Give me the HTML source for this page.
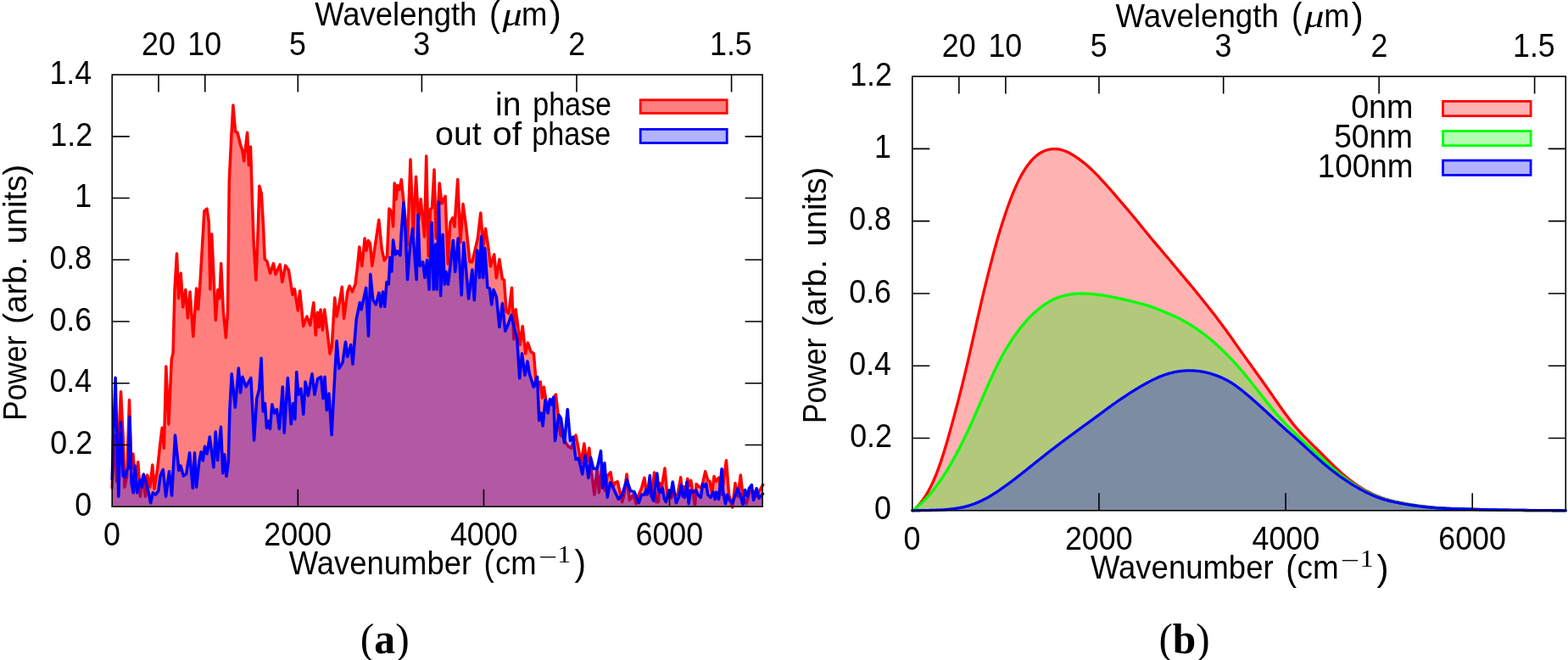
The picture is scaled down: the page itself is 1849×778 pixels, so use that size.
<!DOCTYPE html>
<html><head><meta charset="utf-8"><title>Power spectra</title>
<style>html,body{margin:0;padding:0;background:#fff;width:1849px;height:778px;overflow:hidden}svg{display:block}</style>
</head><body>
<svg width="1849" height="778" viewBox="0 0 1849 778">
<rect width="1849" height="778" fill="#fff"/>
<g stroke-linejoin="round" stroke-linecap="round">
<path d="M132.2,597.2 L132.2,575 L132.6,565.5 L135.5,513 L137.7,567.7 L142.5,461.7 L145.3,517.4 L147,574.2 L149.7,561.1 L152.5,471.5 L154.7,552.4 L156.9,534.9 L159.5,565.5 L162.8,544.7 L165.4,585.2 L168.3,561.1 L171.5,585.2 L173.7,560 L177,574.2 L179.8,548 L182,576.4 L185.7,552.4 L189,521.8 L191.2,504.3 L193.4,528.3 L195.8,432 L198.9,500 L202.3,423.7 L204.1,416 L206,341.4 L208.5,299 L210.6,351.7 L213.2,322.1 L215.7,362 L218.8,341.4 L221.4,374.8 L224,344 L227.8,396.7 L231.7,340.1 L233.7,364.6 L236.3,328.6 L240.9,248.8 L244,246.2 L246.3,262 L247.9,341 L249.7,276 L254.3,377.4 L256.9,341.4 L258.9,351.7 L260.7,310.6 L263.3,367.1 L266.4,398 L268.5,367.1 L270.3,212.8 L272.8,161.4 L274.9,124.1 L277.5,155 L280,156.3 L283.9,171.7 L285.7,176.8 L287.7,189.7 L291.6,156.3 L293.4,194.8 L295.5,173 L297.5,238.5 L299.3,290 L301.9,330 L304.5,264 L305.8,219.3 L308.3,228.3 L310.4,264.2 L312.2,305.4 L314.8,308 L318.6,322.1 L322.5,310.6 L325,323.4 L330.2,311.9 L332.8,332.4 L336.6,313.1 L340.4,318.6 L345,347.5 L347.3,340.6 L351.3,366 L353.6,342.9 L357.7,384.5 L361.9,373 L365.8,383.4 L369.8,356.8 L372.3,394.9 L374.4,368.3 L376.2,385.7 L378.1,364.9 L380.4,389.2 L382.7,364.9 L385.9,390.3 L389,416.9 L391.3,408.8 L394.7,351 L397.1,373 L400.5,355.6 L403.3,338.3 L405.6,375.3 L409.8,344 L412.1,337.1 L415.5,344 L419,334.8 L421.3,316.3 L423.8,291.1 L426.8,313.6 L430.1,281.1 L432.1,295.3 L434.3,283.6 L436.5,286.9 L438.8,313.6 L446.8,259.3 L450.2,293.6 L453.2,307 L456.5,302 L458.9,246 L461.9,250.2 L463.6,266.9 L465.2,215.9 L467.2,235.1 L468.6,218.4 L471.1,223.4 L473.3,211.7 L477.3,251 L480.4,289 L484,188 L487.4,277 L490.5,208.2 L493.5,260.2 L496.2,234.8 L500.6,279 L502.7,183.9 L505.2,302 L507.5,246.7 L509.5,245 L512,200.1 L514.2,281 L518.2,216 L520.9,240 L525.1,231.3 L528.2,311.1 L530.9,262.5 L533.7,256.8 L536,267.2 L539.7,211.6 L542.9,285.7 L546,240.6 L549.9,269.5 L554,308.8 L556.8,308.8 L563.3,281.1 L566.8,251 L569.8,290.3 L572.5,269.5 L576,292.6 L578.5,313.9 L582.7,300 L585.4,327.8 L588.9,305.8 L592.4,328.9 L594.5,330 L597,367.1 L599.8,369.4 L603.5,339.3 L605.8,400 L608.1,364.8 L610.9,385.6 L613.2,406.4 L616.2,384.5 L619.7,416.8 L622.4,404.1 L625.9,414.5 L629.4,416.8 L632.5,455 L637.2,450 L639.5,469 L641.4,456.2 L644.5,475.9 L647,474 L651,472 L655.4,465 L658.9,495.6 L661.1,513 L664,515 L667,521.8 L670,526 L673.6,528.3 L679,513 L681.6,526.2 L685.1,545.8 L688.9,522.9 L691.7,545.8 L694.8,528.3 L697.6,556.7 L700.9,583 L704.2,550.2 L706.3,580.8 L709.6,552 L713.6,578.6 L716.2,561 L720.1,556.7 L722.7,574.2 L725.4,569 L728.2,567.7 L733.7,591.7 L735.9,583 L739.1,558.9 L742.4,589.5 L746.8,583 L750.1,593.9 L753.3,583 L756.6,575.3 L759.9,563.3 L762,578 L763.2,583.2 L766,571 L768.2,585 L771.6,556.9 L773.7,591.7 L776.3,591.7 L777.9,569.5 L780.5,572.7 L784,552.1 L785.8,572.7 L787.4,587.4 L789.5,579 L791.6,587.4 L793.7,579 L796.4,583.2 L799,583.2 L802.7,562.7 L804.8,583.2 L806.9,573.7 L808.5,584.3 L810.8,564.3 L812.7,572.7 L814.8,566.4 L817.4,582.2 L819.5,595.9 L821.1,570.6 L824.3,573.7 L827.4,574.8 L831.7,555.8 L834.8,566.4 L836.9,567.4 L839.6,581.1 L842,561.6 L844.3,567.4 L847.5,563.2 L851.1,583.2 L856.4,542.7 L859.6,583.2 L863.8,598 L867,569.5 L870.1,585.3 L873.3,560 L875.9,583.2 L880.1,593.8 L884.3,579 L888.6,579 L891.7,585.3 L895.9,578 L899.6,571.6 L899.6,597.2 Z" fill="#ff0000" fill-opacity="0.5" stroke="none"/>
<path d="M132.2,575 L132.6,565.5 L135.5,513 L137.7,567.7 L142.5,461.7 L145.3,517.4 L147,574.2 L149.7,561.1 L152.5,471.5 L154.7,552.4 L156.9,534.9 L159.5,565.5 L162.8,544.7 L165.4,585.2 L168.3,561.1 L171.5,585.2 L173.7,560 L177,574.2 L179.8,548 L182,576.4 L185.7,552.4 L189,521.8 L191.2,504.3 L193.4,528.3 L195.8,432 L198.9,500 L202.3,423.7 L204.1,416 L206,341.4 L208.5,299 L210.6,351.7 L213.2,322.1 L215.7,362 L218.8,341.4 L221.4,374.8 L224,344 L227.8,396.7 L231.7,340.1 L233.7,364.6 L236.3,328.6 L240.9,248.8 L244,246.2 L246.3,262 L247.9,341 L249.7,276 L254.3,377.4 L256.9,341.4 L258.9,351.7 L260.7,310.6 L263.3,367.1 L266.4,398 L268.5,367.1 L270.3,212.8 L272.8,161.4 L274.9,124.1 L277.5,155 L280,156.3 L283.9,171.7 L285.7,176.8 L287.7,189.7 L291.6,156.3 L293.4,194.8 L295.5,173 L297.5,238.5 L299.3,290 L301.9,330 L304.5,264 L305.8,219.3 L308.3,228.3 L310.4,264.2 L312.2,305.4 L314.8,308 L318.6,322.1 L322.5,310.6 L325,323.4 L330.2,311.9 L332.8,332.4 L336.6,313.1 L340.4,318.6 L345,347.5 L347.3,340.6 L351.3,366 L353.6,342.9 L357.7,384.5 L361.9,373 L365.8,383.4 L369.8,356.8 L372.3,394.9 L374.4,368.3 L376.2,385.7 L378.1,364.9 L380.4,389.2 L382.7,364.9 L385.9,390.3 L389,416.9 L391.3,408.8 L394.7,351 L397.1,373 L400.5,355.6 L403.3,338.3 L405.6,375.3 L409.8,344 L412.1,337.1 L415.5,344 L419,334.8 L421.3,316.3 L423.8,291.1 L426.8,313.6 L430.1,281.1 L432.1,295.3 L434.3,283.6 L436.5,286.9 L438.8,313.6 L446.8,259.3 L450.2,293.6 L453.2,307 L456.5,302 L458.9,246 L461.9,250.2 L463.6,266.9 L465.2,215.9 L467.2,235.1 L468.6,218.4 L471.1,223.4 L473.3,211.7 L477.3,251 L480.4,289 L484,188 L487.4,277 L490.5,208.2 L493.5,260.2 L496.2,234.8 L500.6,279 L502.7,183.9 L505.2,302 L507.5,246.7 L509.5,245 L512,200.1 L514.2,281 L518.2,216 L520.9,240 L525.1,231.3 L528.2,311.1 L530.9,262.5 L533.7,256.8 L536,267.2 L539.7,211.6 L542.9,285.7 L546,240.6 L549.9,269.5 L554,308.8 L556.8,308.8 L563.3,281.1 L566.8,251 L569.8,290.3 L572.5,269.5 L576,292.6 L578.5,313.9 L582.7,300 L585.4,327.8 L588.9,305.8 L592.4,328.9 L594.5,330 L597,367.1 L599.8,369.4 L603.5,339.3 L605.8,400 L608.1,364.8 L610.9,385.6 L613.2,406.4 L616.2,384.5 L619.7,416.8 L622.4,404.1 L625.9,414.5 L629.4,416.8 L632.5,455 L637.2,450 L639.5,469 L641.4,456.2 L644.5,475.9 L647,474 L651,472 L655.4,465 L658.9,495.6 L661.1,513 L664,515 L667,521.8 L670,526 L673.6,528.3 L679,513 L681.6,526.2 L685.1,545.8 L688.9,522.9 L691.7,545.8 L694.8,528.3 L697.6,556.7 L700.9,583 L704.2,550.2 L706.3,580.8 L709.6,552 L713.6,578.6 L716.2,561 L720.1,556.7 L722.7,574.2 L725.4,569 L728.2,567.7 L733.7,591.7 L735.9,583 L739.1,558.9 L742.4,589.5 L746.8,583 L750.1,593.9 L753.3,583 L756.6,575.3 L759.9,563.3 L762,578 L763.2,583.2 L766,571 L768.2,585 L771.6,556.9 L773.7,591.7 L776.3,591.7 L777.9,569.5 L780.5,572.7 L784,552.1 L785.8,572.7 L787.4,587.4 L789.5,579 L791.6,587.4 L793.7,579 L796.4,583.2 L799,583.2 L802.7,562.7 L804.8,583.2 L806.9,573.7 L808.5,584.3 L810.8,564.3 L812.7,572.7 L814.8,566.4 L817.4,582.2 L819.5,595.9 L821.1,570.6 L824.3,573.7 L827.4,574.8 L831.7,555.8 L834.8,566.4 L836.9,567.4 L839.6,581.1 L842,561.6 L844.3,567.4 L847.5,563.2 L851.1,583.2 L856.4,542.7 L859.6,583.2 L863.8,598 L867,569.5 L870.1,585.3 L873.3,560 L875.9,583.2 L880.1,593.8 L884.3,579 L888.6,579 L891.7,585.3 L895.9,578 L899.6,571.6" fill="none" stroke="#ff0000" stroke-width="3.5"/>
<path d="M132.2,597.2 L132.2,565 L133.5,520 L136.1,445.3 L139.8,585.2 L142.5,497.7 L145.3,561.1 L147.5,562.2 L149.7,554.6 L151.2,552 L153,491.2 L155.1,569.9 L157.3,580.8 L159.1,549.1 L161.7,580.8 L165,565.5 L167.2,574.2 L169.3,558.9 L172.6,569.9 L174.8,578.6 L177.7,592.8 L180.3,580.8 L183.6,583 L186.8,578.6 L189,561.1 L192.3,553.5 L195.6,585.2 L199.5,555.7 L202.6,584.1 L206.5,513 L210.9,554.6 L213.1,549.1 L216.3,561.1 L219.6,558.9 L223.6,533.8 L227.3,575.3 L229.5,533.8 L231.6,574.2 L234.9,543.6 L237.1,532.7 L239.3,543 L241.5,526.2 L244.1,534.9 L247.3,515 L251.9,550.7 L254.2,509.1 L256.6,542.6 L260.5,503.3 L262.8,557.7 L264.7,535.7 L267,561.6 L269.3,545 L270.9,482.5 L273.2,440.8 L277.4,480.2 L281.3,433.9 L283.6,462.8 L285.9,444.3 L290.1,455.9 L295.9,445.5 L299.6,519 L302.8,469.7 L305.6,459.3 L308.1,422.3 L310.2,484.8 L312.5,475.5 L314.4,504.5 L316.7,496.4 L318.5,505.6 L320.8,476.7 L323.6,487.1 L326.4,482.5 L329.4,505.6 L333.3,455.9 L335.2,510.2 L339.3,445.5 L343.3,499.8 L345.6,475.5 L347.9,494 L349.7,438.5 L351.8,465.1 L354.8,458.2 L357.8,488.3 L360.1,450.1 L363.4,466.3 L368,440.8 L371,465.1 L374.5,446.6 L378.6,444.3 L381,469.7 L383,444.3 L385.3,483.6 L387.9,464 L391.1,512.6 L394.1,454.7 L397.1,401.9 L399.8,434.3 L404,427.3 L407.5,403 L409.8,420.4 L413.7,406.5 L416,429.2 L420.2,376.4 L424.3,356.8 L426,364.9 L431.7,339.4 L434.5,396.1 L436.8,323.2 L439.8,353.3 L443.3,359.1 L446.8,345.2 L449.1,361.4 L451.4,344 L453.7,361.4 L456,332.5 L458.3,334.8 L459.9,303.5 L461.8,320 L463.6,283 L466.2,300 L468.6,296 L471.9,301 L473.1,276.4 L476,239 L478.2,274.1 L480.5,329.6 L483.5,290.3 L486.5,269.5 L488.8,299.6 L491.2,329.6 L492.8,253.3 L495.1,313.5 L498.6,308.8 L500.9,327.3 L503.6,306.5 L506,341.2 L509.2,262.5 L511.3,341.2 L513.6,288 L515.2,341.2 L517.5,238.3 L519.7,348.6 L522.1,276.4 L524.2,335.3 L525.9,320.2 L528.4,335.3 L530.9,313.6 L534.4,283.4 L536.7,320.4 L540.2,281.1 L544.2,347.8 L546.8,286 L552.6,352 L556.8,318.1 L559.3,353.7 L562.8,294.9 L565.6,327.3 L567.5,278.7 L569.8,327.3 L571.8,292.6 L574.9,338.9 L577.5,340 L579.7,359 L582,341.6 L585.4,349.7 L588.9,385.6 L592.4,357.8 L595.8,390.2 L599,383 L602.8,371.7 L606.2,385.6 L609.7,399.5 L612.7,445.8 L615.5,416.8 L619,442.3 L622,426.1 L624.4,440.9 L629.3,456.2 L633.6,444.2 L635.7,495.6 L637.9,486.8 L640.1,502.1 L643,471.5 L646.2,486.8 L648.4,470.4 L650.6,477 L652.8,468.2 L654.5,519.6 L658.9,489 L661.5,493 L665.5,521.8 L669.2,482.4 L672.5,519.6 L675.7,515 L679,541.5 L682.3,540 L686.7,558.9 L690,537.1 L693.9,563.3 L696.5,539.3 L699.8,552.4 L704.2,552.4 L708.5,531.6 L710.7,575.3 L712.9,545.8 L716.2,586.2 L719.5,568.8 L722.7,574.2 L729.3,588.4 L733.7,583 L739.1,565.5 L743.5,578.6 L747.9,579.7 L753.3,592.8 L756.6,583 L760,583.2 L762.1,576.9 L763.7,582.2 L766.3,560.6 L768.4,585.3 L770.5,590.1 L774.8,557.9 L776.9,579 L779,580.1 L781.1,574.8 L783.2,587.4 L785.3,591.7 L789,578 L790.6,585.3 L793.2,567.9 L795.3,581.1 L797.4,592.7 L800.6,585.3 L803.4,571.6 L805.3,585.3 L807.4,586.4 L810,567.9 L812.2,593.8 L814.3,578 L817.4,580.1 L820.6,578 L823.2,583.2 L826.4,586.4 L828.5,570.6 L831.1,573.7 L832.7,570 L834.8,583.2 L838,586.4 L841.1,580.1 L843.2,588.5 L844.8,580.1 L847.5,588.5 L851.1,552.7 L852.7,579 L855.4,593.8 L857.5,583.2 L860.1,589.5 L863.8,592.7 L866.4,585.3 L870.1,575.8 L873.3,585.3 L876,595.3 L878.5,577.4 L881.2,585.3 L883.3,575.8 L886.4,571.6 L888.6,589.5 L892.2,575.8 L894.9,587.4 L899.6,582.2 L899.6,597.2 Z" fill="#0000ff" fill-opacity="0.3" stroke="none"/>
<path d="M132.2,565 L133.5,520 L136.1,445.3 L139.8,585.2 L142.5,497.7 L145.3,561.1 L147.5,562.2 L149.7,554.6 L151.2,552 L153,491.2 L155.1,569.9 L157.3,580.8 L159.1,549.1 L161.7,580.8 L165,565.5 L167.2,574.2 L169.3,558.9 L172.6,569.9 L174.8,578.6 L177.7,592.8 L180.3,580.8 L183.6,583 L186.8,578.6 L189,561.1 L192.3,553.5 L195.6,585.2 L199.5,555.7 L202.6,584.1 L206.5,513 L210.9,554.6 L213.1,549.1 L216.3,561.1 L219.6,558.9 L223.6,533.8 L227.3,575.3 L229.5,533.8 L231.6,574.2 L234.9,543.6 L237.1,532.7 L239.3,543 L241.5,526.2 L244.1,534.9 L247.3,515 L251.9,550.7 L254.2,509.1 L256.6,542.6 L260.5,503.3 L262.8,557.7 L264.7,535.7 L267,561.6 L269.3,545 L270.9,482.5 L273.2,440.8 L277.4,480.2 L281.3,433.9 L283.6,462.8 L285.9,444.3 L290.1,455.9 L295.9,445.5 L299.6,519 L302.8,469.7 L305.6,459.3 L308.1,422.3 L310.2,484.8 L312.5,475.5 L314.4,504.5 L316.7,496.4 L318.5,505.6 L320.8,476.7 L323.6,487.1 L326.4,482.5 L329.4,505.6 L333.3,455.9 L335.2,510.2 L339.3,445.5 L343.3,499.8 L345.6,475.5 L347.9,494 L349.7,438.5 L351.8,465.1 L354.8,458.2 L357.8,488.3 L360.1,450.1 L363.4,466.3 L368,440.8 L371,465.1 L374.5,446.6 L378.6,444.3 L381,469.7 L383,444.3 L385.3,483.6 L387.9,464 L391.1,512.6 L394.1,454.7 L397.1,401.9 L399.8,434.3 L404,427.3 L407.5,403 L409.8,420.4 L413.7,406.5 L416,429.2 L420.2,376.4 L424.3,356.8 L426,364.9 L431.7,339.4 L434.5,396.1 L436.8,323.2 L439.8,353.3 L443.3,359.1 L446.8,345.2 L449.1,361.4 L451.4,344 L453.7,361.4 L456,332.5 L458.3,334.8 L459.9,303.5 L461.8,320 L463.6,283 L466.2,300 L468.6,296 L471.9,301 L473.1,276.4 L476,239 L478.2,274.1 L480.5,329.6 L483.5,290.3 L486.5,269.5 L488.8,299.6 L491.2,329.6 L492.8,253.3 L495.1,313.5 L498.6,308.8 L500.9,327.3 L503.6,306.5 L506,341.2 L509.2,262.5 L511.3,341.2 L513.6,288 L515.2,341.2 L517.5,238.3 L519.7,348.6 L522.1,276.4 L524.2,335.3 L525.9,320.2 L528.4,335.3 L530.9,313.6 L534.4,283.4 L536.7,320.4 L540.2,281.1 L544.2,347.8 L546.8,286 L552.6,352 L556.8,318.1 L559.3,353.7 L562.8,294.9 L565.6,327.3 L567.5,278.7 L569.8,327.3 L571.8,292.6 L574.9,338.9 L577.5,340 L579.7,359 L582,341.6 L585.4,349.7 L588.9,385.6 L592.4,357.8 L595.8,390.2 L599,383 L602.8,371.7 L606.2,385.6 L609.7,399.5 L612.7,445.8 L615.5,416.8 L619,442.3 L622,426.1 L624.4,440.9 L629.3,456.2 L633.6,444.2 L635.7,495.6 L637.9,486.8 L640.1,502.1 L643,471.5 L646.2,486.8 L648.4,470.4 L650.6,477 L652.8,468.2 L654.5,519.6 L658.9,489 L661.5,493 L665.5,521.8 L669.2,482.4 L672.5,519.6 L675.7,515 L679,541.5 L682.3,540 L686.7,558.9 L690,537.1 L693.9,563.3 L696.5,539.3 L699.8,552.4 L704.2,552.4 L708.5,531.6 L710.7,575.3 L712.9,545.8 L716.2,586.2 L719.5,568.8 L722.7,574.2 L729.3,588.4 L733.7,583 L739.1,565.5 L743.5,578.6 L747.9,579.7 L753.3,592.8 L756.6,583 L760,583.2 L762.1,576.9 L763.7,582.2 L766.3,560.6 L768.4,585.3 L770.5,590.1 L774.8,557.9 L776.9,579 L779,580.1 L781.1,574.8 L783.2,587.4 L785.3,591.7 L789,578 L790.6,585.3 L793.2,567.9 L795.3,581.1 L797.4,592.7 L800.6,585.3 L803.4,571.6 L805.3,585.3 L807.4,586.4 L810,567.9 L812.2,593.8 L814.3,578 L817.4,580.1 L820.6,578 L823.2,583.2 L826.4,586.4 L828.5,570.6 L831.1,573.7 L832.7,570 L834.8,583.2 L838,586.4 L841.1,580.1 L843.2,588.5 L844.8,580.1 L847.5,588.5 L851.1,552.7 L852.7,579 L855.4,593.8 L857.5,583.2 L860.1,589.5 L863.8,592.7 L866.4,585.3 L870.1,575.8 L873.3,585.3 L876,595.3 L878.5,577.4 L881.2,585.3 L883.3,575.8 L886.4,571.6 L888.6,589.5 L892.2,575.8 L894.9,587.4 L899.6,582.2" fill="none" stroke="#0000ff" stroke-width="3.5"/>
</g>
<path d="M132.2,524.47 h20.5 M899.1,524.47 h-20.5 M132.2,451.74 h20.5 M899.1,451.74 h-20.5 M132.2,379.01 h20.5 M899.1,379.01 h-20.5 M132.2,306.29 h20.5 M899.1,306.29 h-20.5 M132.2,233.56 h20.5 M899.1,233.56 h-20.5 M132.2,160.83 h20.5 M899.1,160.83 h-20.5 M351.31,597.2 v-20.5 M570.43,597.2 v-20.5 M789.54,597.2 v-20.5 M186.98,88.1 v20.5 M241.76,88.1 v20.5 M351.31,88.1 v20.5 M497.39,88.1 v20.5 M679.99,88.1 v20.5 M862.58,88.1 v20.5" stroke="#000" stroke-width="1.6" fill="none"/>
<rect x="132.2" y="88.1" width="766.9" height="509.1" fill="none" stroke="#000" stroke-width="1.6"/>
<g stroke-linejoin="round" stroke-linecap="round">
<path d="M1075.8,601.8 L1075.8,601.8 L1077.3,601.69 L1078.8,600.15 L1080.3,598.58 L1081.8,596.96 L1083.3,595.28 L1084.8,593.52 L1086.3,591.67 L1087.8,589.7 L1089.3,587.62 L1090.8,585.4 L1092.3,583.04 L1093.8,580.53 L1095.3,577.86 L1096.8,575.03 L1098.3,572.03 L1099.8,568.86 L1101.3,565.52 L1102.8,562 L1104.3,558.29 L1105.8,554.4 L1107.3,550.33 L1108.8,546.08 L1110.3,541.64 L1111.8,537.02 L1113.3,532.24 L1114.8,527.31 L1116.3,522.24 L1117.8,517.05 L1119.3,511.76 L1120.8,506.38 L1122.3,500.92 L1123.8,495.4 L1125.3,489.83 L1126.8,484.21 L1128.3,478.53 L1129.8,472.8 L1131.3,467 L1132.8,461.12 L1134.3,455.15 L1135.8,449.08 L1137.3,442.92 L1138.8,436.67 L1140.3,430.32 L1141.8,423.88 L1143.3,417.36 L1144.8,410.78 L1146.3,404.14 L1147.8,397.46 L1149.3,390.77 L1150.8,384.08 L1152.3,377.41 L1153.8,370.8 L1155.3,364.26 L1156.8,357.81 L1158.3,351.44 L1159.8,345.16 L1161.3,338.96 L1162.8,332.84 L1164.3,326.78 L1165.8,320.8 L1167.3,314.89 L1168.8,309.06 L1170.3,303.33 L1171.8,297.7 L1173.3,292.19 L1174.8,286.8 L1176.3,281.55 L1177.8,276.43 L1179.3,271.44 L1180.8,266.59 L1182.3,261.86 L1183.8,257.24 L1185.3,252.74 L1186.8,248.34 L1188.3,244.06 L1189.8,239.9 L1191.3,235.87 L1192.8,231.97 L1194.3,228.22 L1195.8,224.61 L1197.3,221.14 L1198.8,217.81 L1200.3,214.62 L1201.8,211.57 L1203.3,208.67 L1204.8,205.91 L1206.3,203.28 L1207.8,200.79 L1209.3,198.44 L1210.8,196.22 L1212.3,194.14 L1213.8,192.19 L1215.3,190.37 L1216.8,188.67 L1218.3,187.1 L1219.8,185.64 L1221.3,184.3 L1222.8,183.07 L1224.3,181.94 L1225.8,180.92 L1227.3,180 L1228.8,179.17 L1230.3,178.44 L1231.8,177.79 L1233.3,177.23 L1234.8,176.75 L1236.3,176.36 L1237.8,176.05 L1239.3,175.81 L1240.8,175.65 L1242.3,175.56 L1243.8,175.55 L1245.3,175.61 L1246.8,175.74 L1248.3,175.94 L1249.8,176.22 L1251.3,176.56 L1252.8,176.98 L1254.3,177.46 L1255.8,178.01 L1257.3,178.63 L1258.8,179.3 L1260.3,180.03 L1261.8,180.81 L1263.3,181.64 L1264.8,182.51 L1266.3,183.43 L1267.8,184.39 L1269.3,185.38 L1270.8,186.41 L1272.3,187.47 L1273.8,188.56 L1275.3,189.68 L1276.8,190.84 L1278.3,192.03 L1279.8,193.26 L1281.3,194.52 L1282.8,195.83 L1284.3,197.17 L1285.8,198.54 L1287.3,199.95 L1288.8,201.4 L1290.3,202.87 L1291.8,204.38 L1293.3,205.92 L1294.8,207.48 L1296.3,209.06 L1297.8,210.66 L1299.3,212.28 L1300.8,213.92 L1302.3,215.56 L1303.8,217.22 L1305.3,218.89 L1306.8,220.57 L1308.3,222.26 L1309.8,223.96 L1311.3,225.67 L1312.8,227.39 L1314.3,229.12 L1315.8,230.85 L1317.3,232.59 L1318.8,234.33 L1320.3,236.08 L1321.8,237.83 L1323.3,239.58 L1324.8,241.34 L1326.3,243.1 L1327.8,244.87 L1329.3,246.64 L1330.8,248.42 L1332.3,250.2 L1333.8,251.99 L1335.3,253.79 L1336.8,255.6 L1338.3,257.41 L1339.8,259.24 L1341.3,261.07 L1342.8,262.91 L1344.3,264.75 L1345.8,266.6 L1347.3,268.45 L1348.8,270.29 L1350.3,272.14 L1351.8,273.98 L1353.3,275.82 L1354.8,277.64 L1356.3,279.46 L1357.8,281.27 L1359.3,283.07 L1360.8,284.86 L1362.3,286.63 L1363.8,288.41 L1365.3,290.17 L1366.8,291.93 L1368.3,293.69 L1369.8,295.44 L1371.3,297.19 L1372.8,298.95 L1374.3,300.71 L1375.8,302.47 L1377.3,304.25 L1378.8,306.03 L1380.3,307.81 L1381.8,309.61 L1383.3,311.4 L1384.8,313.2 L1386.3,315 L1387.8,316.8 L1389.3,318.6 L1390.8,320.39 L1392.3,322.18 L1393.8,323.97 L1395.3,325.75 L1396.8,327.54 L1398.3,329.32 L1399.8,331.1 L1401.3,332.89 L1402.8,334.68 L1404.3,336.48 L1405.8,338.29 L1407.3,340.1 L1408.8,341.93 L1410.3,343.76 L1411.8,345.6 L1413.3,347.45 L1414.8,349.31 L1416.3,351.17 L1417.8,353.04 L1419.3,354.92 L1420.8,356.8 L1422.3,358.68 L1423.8,360.57 L1425.3,362.46 L1426.8,364.36 L1428.3,366.26 L1429.8,368.17 L1431.3,370.09 L1432.8,372.02 L1434.3,373.97 L1435.8,375.92 L1437.3,377.89 L1438.8,379.88 L1440.3,381.89 L1441.8,383.92 L1443.3,385.96 L1444.8,388.01 L1446.3,390.08 L1447.8,392.16 L1449.3,394.25 L1450.8,396.36 L1452.3,398.47 L1453.8,400.58 L1455.3,402.7 L1456.8,404.83 L1458.3,406.96 L1459.8,409.08 L1461.3,411.21 L1462.8,413.33 L1464.3,415.45 L1465.8,417.56 L1467.3,419.66 L1468.8,421.76 L1470.3,423.84 L1471.8,425.92 L1473.3,428 L1474.8,430.08 L1476.3,432.15 L1477.8,434.22 L1479.3,436.3 L1480.8,438.38 L1482.3,440.45 L1483.8,442.54 L1485.3,444.63 L1486.8,446.72 L1488.3,448.82 L1489.8,450.93 L1491.3,453.05 L1492.8,455.18 L1494.3,457.32 L1495.8,459.46 L1497.3,461.61 L1498.8,463.76 L1500.3,465.92 L1501.8,468.08 L1503.3,470.24 L1504.8,472.4 L1506.3,474.56 L1507.8,476.71 L1509.3,478.86 L1510.8,480.99 L1512.3,483.11 L1513.8,485.2 L1515.3,487.28 L1516.8,489.33 L1518.3,491.35 L1519.8,493.35 L1521.3,495.31 L1522.8,497.23 L1524.3,499.12 L1525.8,500.97 L1527.3,502.78 L1528.8,504.55 L1530.3,506.28 L1531.8,507.96 L1533.3,509.61 L1534.8,511.21 L1536.3,512.79 L1537.8,514.34 L1539.3,515.87 L1540.8,517.38 L1542.3,518.87 L1543.8,520.36 L1545.3,521.85 L1546.8,523.33 L1548.3,524.81 L1549.8,526.3 L1551.3,527.78 L1552.8,529.26 L1554.3,530.75 L1555.8,532.24 L1557.3,533.73 L1558.8,535.22 L1560.3,536.72 L1561.8,538.22 L1563.3,539.72 L1564.8,541.22 L1566.3,542.71 L1567.8,544.2 L1569.3,545.68 L1570.8,547.16 L1572.3,548.62 L1573.8,550.07 L1575.3,551.5 L1576.8,552.92 L1578.3,554.32 L1579.8,555.7 L1581.3,557.06 L1582.8,558.4 L1584.3,559.71 L1585.8,561 L1587.3,562.26 L1588.8,563.49 L1590.3,564.7 L1591.8,565.87 L1593.3,567.02 L1594.8,568.13 L1596.3,569.22 L1597.8,570.28 L1599.3,571.32 L1600.8,572.33 L1602.3,573.31 L1603.8,574.26 L1605.3,575.2 L1606.8,576.1 L1608.3,576.98 L1609.8,577.84 L1611.3,578.67 L1612.8,579.48 L1614.3,580.26 L1615.8,581.02 L1617.3,581.75 L1618.8,582.46 L1620.3,583.15 L1621.8,583.81 L1623.3,584.45 L1624.8,585.07 L1626.3,585.66 L1627.8,586.22 L1629.3,586.77 L1630.8,587.29 L1632.3,587.78 L1633.8,588.25 L1635.3,588.7 L1636.8,589.13 L1638.3,589.53 L1639.8,589.92 L1641.3,590.3 L1642.8,590.65 L1644.3,591 L1645.8,591.33 L1647.3,591.66 L1648.8,591.98 L1650.3,592.3 L1651.8,592.61 L1653.3,592.92 L1654.8,593.22 L1656.3,593.52 L1657.8,593.81 L1659.3,594.09 L1660.8,594.37 L1662.3,594.63 L1663.8,594.89 L1665.3,595.14 L1666.8,595.39 L1668.3,595.62 L1669.8,595.85 L1671.3,596.07 L1672.8,596.28 L1674.3,596.49 L1675.8,596.68 L1677.3,596.87 L1678.8,597.06 L1680.3,597.24 L1681.8,597.41 L1683.3,597.57 L1684.8,597.73 L1686.3,597.88 L1687.8,598.02 L1689.3,598.16 L1690.8,598.3 L1692.3,598.42 L1693.8,598.54 L1695.3,598.66 L1696.8,598.77 L1698.3,598.87 L1699.8,598.97 L1701.3,599.07 L1702.8,599.16 L1704.3,599.24 L1705.8,599.32 L1707.3,599.4 L1708.8,599.47 L1710.3,599.54 L1711.8,599.61 L1713.3,599.67 L1714.8,599.73 L1716.3,599.79 L1717.8,599.84 L1719.3,599.89 L1720.8,599.95 L1722.3,600 L1723.8,600.05 L1725.3,600.09 L1726.8,600.14 L1728.3,600.19 L1729.8,600.23 L1731.3,600.27 L1732.8,600.32 L1734.3,600.36 L1735.8,600.4 L1737.3,600.44 L1738.8,600.48 L1740.3,600.51 L1741.8,600.55 L1743.3,600.59 L1744.8,600.62 L1746.3,600.66 L1747.8,600.7 L1749.3,600.73 L1750.8,600.76 L1752.3,600.8 L1753.8,600.83 L1755.3,600.86 L1756.8,600.89 L1758.3,600.92 L1759.8,600.95 L1761.3,600.98 L1762.8,601.01 L1764.3,601.04 L1765.8,601.07 L1767.3,601.1 L1768.8,601.12 L1770.3,601.15 L1771.8,601.17 L1773.3,601.2 L1774.8,601.22 L1776.3,601.24 L1777.8,601.27 L1779.3,601.29 L1780.8,601.31 L1782.3,601.33 L1783.8,601.35 L1785.3,601.37 L1786.8,601.39 L1788.3,601.41 L1789.8,601.42 L1791.3,601.44 L1792.8,601.46 L1794.3,601.47 L1795.8,601.49 L1797.3,601.5 L1798.8,601.52 L1800.3,601.53 L1801.8,601.54 L1803.3,601.56 L1804.8,601.57 L1806.3,601.58 L1807.8,601.59 L1809.3,601.6 L1810.8,601.61 L1812.3,601.62 L1813.8,601.64 L1815.3,601.64 L1816.8,601.65 L1818.3,601.66 L1819.8,601.67 L1821.3,601.68 L1822.8,601.69 L1824.3,601.7 L1825.8,601.71 L1827.3,601.71 L1828.8,601.72 L1830.3,601.73 L1831.8,601.74 L1833.3,601.74 L1834.8,601.75 L1836.3,601.76 L1837.8,601.76 L1839.3,601.77 L1840.8,601.78 L1842.3,601.78 L1843.8,601.79 L1845.3,601.8 L1846.3,601.8 L1846.3,601.8 Z" fill="#ff0000" fill-opacity="0.3" stroke="none"/>
<path d="M1075.8,601.8 L1077.3,601.69 L1078.8,600.15 L1080.3,598.58 L1081.8,596.96 L1083.3,595.28 L1084.8,593.52 L1086.3,591.67 L1087.8,589.7 L1089.3,587.62 L1090.8,585.4 L1092.3,583.04 L1093.8,580.53 L1095.3,577.86 L1096.8,575.03 L1098.3,572.03 L1099.8,568.86 L1101.3,565.52 L1102.8,562 L1104.3,558.29 L1105.8,554.4 L1107.3,550.33 L1108.8,546.08 L1110.3,541.64 L1111.8,537.02 L1113.3,532.24 L1114.8,527.31 L1116.3,522.24 L1117.8,517.05 L1119.3,511.76 L1120.8,506.38 L1122.3,500.92 L1123.8,495.4 L1125.3,489.83 L1126.8,484.21 L1128.3,478.53 L1129.8,472.8 L1131.3,467 L1132.8,461.12 L1134.3,455.15 L1135.8,449.08 L1137.3,442.92 L1138.8,436.67 L1140.3,430.32 L1141.8,423.88 L1143.3,417.36 L1144.8,410.78 L1146.3,404.14 L1147.8,397.46 L1149.3,390.77 L1150.8,384.08 L1152.3,377.41 L1153.8,370.8 L1155.3,364.26 L1156.8,357.81 L1158.3,351.44 L1159.8,345.16 L1161.3,338.96 L1162.8,332.84 L1164.3,326.78 L1165.8,320.8 L1167.3,314.89 L1168.8,309.06 L1170.3,303.33 L1171.8,297.7 L1173.3,292.19 L1174.8,286.8 L1176.3,281.55 L1177.8,276.43 L1179.3,271.44 L1180.8,266.59 L1182.3,261.86 L1183.8,257.24 L1185.3,252.74 L1186.8,248.34 L1188.3,244.06 L1189.8,239.9 L1191.3,235.87 L1192.8,231.97 L1194.3,228.22 L1195.8,224.61 L1197.3,221.14 L1198.8,217.81 L1200.3,214.62 L1201.8,211.57 L1203.3,208.67 L1204.8,205.91 L1206.3,203.28 L1207.8,200.79 L1209.3,198.44 L1210.8,196.22 L1212.3,194.14 L1213.8,192.19 L1215.3,190.37 L1216.8,188.67 L1218.3,187.1 L1219.8,185.64 L1221.3,184.3 L1222.8,183.07 L1224.3,181.94 L1225.8,180.92 L1227.3,180 L1228.8,179.17 L1230.3,178.44 L1231.8,177.79 L1233.3,177.23 L1234.8,176.75 L1236.3,176.36 L1237.8,176.05 L1239.3,175.81 L1240.8,175.65 L1242.3,175.56 L1243.8,175.55 L1245.3,175.61 L1246.8,175.74 L1248.3,175.94 L1249.8,176.22 L1251.3,176.56 L1252.8,176.98 L1254.3,177.46 L1255.8,178.01 L1257.3,178.63 L1258.8,179.3 L1260.3,180.03 L1261.8,180.81 L1263.3,181.64 L1264.8,182.51 L1266.3,183.43 L1267.8,184.39 L1269.3,185.38 L1270.8,186.41 L1272.3,187.47 L1273.8,188.56 L1275.3,189.68 L1276.8,190.84 L1278.3,192.03 L1279.8,193.26 L1281.3,194.52 L1282.8,195.83 L1284.3,197.17 L1285.8,198.54 L1287.3,199.95 L1288.8,201.4 L1290.3,202.87 L1291.8,204.38 L1293.3,205.92 L1294.8,207.48 L1296.3,209.06 L1297.8,210.66 L1299.3,212.28 L1300.8,213.92 L1302.3,215.56 L1303.8,217.22 L1305.3,218.89 L1306.8,220.57 L1308.3,222.26 L1309.8,223.96 L1311.3,225.67 L1312.8,227.39 L1314.3,229.12 L1315.8,230.85 L1317.3,232.59 L1318.8,234.33 L1320.3,236.08 L1321.8,237.83 L1323.3,239.58 L1324.8,241.34 L1326.3,243.1 L1327.8,244.87 L1329.3,246.64 L1330.8,248.42 L1332.3,250.2 L1333.8,251.99 L1335.3,253.79 L1336.8,255.6 L1338.3,257.41 L1339.8,259.24 L1341.3,261.07 L1342.8,262.91 L1344.3,264.75 L1345.8,266.6 L1347.3,268.45 L1348.8,270.29 L1350.3,272.14 L1351.8,273.98 L1353.3,275.82 L1354.8,277.64 L1356.3,279.46 L1357.8,281.27 L1359.3,283.07 L1360.8,284.86 L1362.3,286.63 L1363.8,288.41 L1365.3,290.17 L1366.8,291.93 L1368.3,293.69 L1369.8,295.44 L1371.3,297.19 L1372.8,298.95 L1374.3,300.71 L1375.8,302.47 L1377.3,304.25 L1378.8,306.03 L1380.3,307.81 L1381.8,309.61 L1383.3,311.4 L1384.8,313.2 L1386.3,315 L1387.8,316.8 L1389.3,318.6 L1390.8,320.39 L1392.3,322.18 L1393.8,323.97 L1395.3,325.75 L1396.8,327.54 L1398.3,329.32 L1399.8,331.1 L1401.3,332.89 L1402.8,334.68 L1404.3,336.48 L1405.8,338.29 L1407.3,340.1 L1408.8,341.93 L1410.3,343.76 L1411.8,345.6 L1413.3,347.45 L1414.8,349.31 L1416.3,351.17 L1417.8,353.04 L1419.3,354.92 L1420.8,356.8 L1422.3,358.68 L1423.8,360.57 L1425.3,362.46 L1426.8,364.36 L1428.3,366.26 L1429.8,368.17 L1431.3,370.09 L1432.8,372.02 L1434.3,373.97 L1435.8,375.92 L1437.3,377.89 L1438.8,379.88 L1440.3,381.89 L1441.8,383.92 L1443.3,385.96 L1444.8,388.01 L1446.3,390.08 L1447.8,392.16 L1449.3,394.25 L1450.8,396.36 L1452.3,398.47 L1453.8,400.58 L1455.3,402.7 L1456.8,404.83 L1458.3,406.96 L1459.8,409.08 L1461.3,411.21 L1462.8,413.33 L1464.3,415.45 L1465.8,417.56 L1467.3,419.66 L1468.8,421.76 L1470.3,423.84 L1471.8,425.92 L1473.3,428 L1474.8,430.08 L1476.3,432.15 L1477.8,434.22 L1479.3,436.3 L1480.8,438.38 L1482.3,440.45 L1483.8,442.54 L1485.3,444.63 L1486.8,446.72 L1488.3,448.82 L1489.8,450.93 L1491.3,453.05 L1492.8,455.18 L1494.3,457.32 L1495.8,459.46 L1497.3,461.61 L1498.8,463.76 L1500.3,465.92 L1501.8,468.08 L1503.3,470.24 L1504.8,472.4 L1506.3,474.56 L1507.8,476.71 L1509.3,478.86 L1510.8,480.99 L1512.3,483.11 L1513.8,485.2 L1515.3,487.28 L1516.8,489.33 L1518.3,491.35 L1519.8,493.35 L1521.3,495.31 L1522.8,497.23 L1524.3,499.12 L1525.8,500.97 L1527.3,502.78 L1528.8,504.55 L1530.3,506.28 L1531.8,507.96 L1533.3,509.61 L1534.8,511.21 L1536.3,512.79 L1537.8,514.34 L1539.3,515.87 L1540.8,517.38 L1542.3,518.87 L1543.8,520.36 L1545.3,521.85 L1546.8,523.33 L1548.3,524.81 L1549.8,526.3 L1551.3,527.78 L1552.8,529.26 L1554.3,530.75 L1555.8,532.24 L1557.3,533.73 L1558.8,535.22 L1560.3,536.72 L1561.8,538.22 L1563.3,539.72 L1564.8,541.22 L1566.3,542.71 L1567.8,544.2 L1569.3,545.68 L1570.8,547.16 L1572.3,548.62 L1573.8,550.07 L1575.3,551.5 L1576.8,552.92 L1578.3,554.32 L1579.8,555.7 L1581.3,557.06 L1582.8,558.4 L1584.3,559.71 L1585.8,561 L1587.3,562.26 L1588.8,563.49 L1590.3,564.7 L1591.8,565.87 L1593.3,567.02 L1594.8,568.13 L1596.3,569.22 L1597.8,570.28 L1599.3,571.32 L1600.8,572.33 L1602.3,573.31 L1603.8,574.26 L1605.3,575.2 L1606.8,576.1 L1608.3,576.98 L1609.8,577.84 L1611.3,578.67 L1612.8,579.48 L1614.3,580.26 L1615.8,581.02 L1617.3,581.75 L1618.8,582.46 L1620.3,583.15 L1621.8,583.81 L1623.3,584.45 L1624.8,585.07 L1626.3,585.66 L1627.8,586.22 L1629.3,586.77 L1630.8,587.29 L1632.3,587.78 L1633.8,588.25 L1635.3,588.7 L1636.8,589.13 L1638.3,589.53 L1639.8,589.92 L1641.3,590.3 L1642.8,590.65 L1644.3,591 L1645.8,591.33 L1647.3,591.66 L1648.8,591.98 L1650.3,592.3 L1651.8,592.61 L1653.3,592.92 L1654.8,593.22 L1656.3,593.52 L1657.8,593.81 L1659.3,594.09 L1660.8,594.37 L1662.3,594.63 L1663.8,594.89 L1665.3,595.14 L1666.8,595.39 L1668.3,595.62 L1669.8,595.85 L1671.3,596.07 L1672.8,596.28 L1674.3,596.49 L1675.8,596.68 L1677.3,596.87 L1678.8,597.06 L1680.3,597.24 L1681.8,597.41 L1683.3,597.57 L1684.8,597.73 L1686.3,597.88 L1687.8,598.02 L1689.3,598.16 L1690.8,598.3 L1692.3,598.42 L1693.8,598.54 L1695.3,598.66 L1696.8,598.77 L1698.3,598.87 L1699.8,598.97 L1701.3,599.07 L1702.8,599.16 L1704.3,599.24 L1705.8,599.32 L1707.3,599.4 L1708.8,599.47 L1710.3,599.54 L1711.8,599.61 L1713.3,599.67 L1714.8,599.73 L1716.3,599.79 L1717.8,599.84 L1719.3,599.89 L1720.8,599.95 L1722.3,600 L1723.8,600.05 L1725.3,600.09 L1726.8,600.14 L1728.3,600.19 L1729.8,600.23 L1731.3,600.27 L1732.8,600.32 L1734.3,600.36 L1735.8,600.4 L1737.3,600.44 L1738.8,600.48 L1740.3,600.51 L1741.8,600.55 L1743.3,600.59 L1744.8,600.62 L1746.3,600.66 L1747.8,600.7 L1749.3,600.73 L1750.8,600.76 L1752.3,600.8 L1753.8,600.83 L1755.3,600.86 L1756.8,600.89 L1758.3,600.92 L1759.8,600.95 L1761.3,600.98 L1762.8,601.01 L1764.3,601.04 L1765.8,601.07 L1767.3,601.1 L1768.8,601.12 L1770.3,601.15 L1771.8,601.17 L1773.3,601.2 L1774.8,601.22 L1776.3,601.24 L1777.8,601.27 L1779.3,601.29 L1780.8,601.31 L1782.3,601.33 L1783.8,601.35 L1785.3,601.37 L1786.8,601.39 L1788.3,601.41 L1789.8,601.42 L1791.3,601.44 L1792.8,601.46 L1794.3,601.47 L1795.8,601.49 L1797.3,601.5 L1798.8,601.52 L1800.3,601.53 L1801.8,601.54 L1803.3,601.56 L1804.8,601.57 L1806.3,601.58 L1807.8,601.59 L1809.3,601.6 L1810.8,601.61 L1812.3,601.62 L1813.8,601.64 L1815.3,601.64 L1816.8,601.65 L1818.3,601.66 L1819.8,601.67 L1821.3,601.68 L1822.8,601.69 L1824.3,601.7 L1825.8,601.71 L1827.3,601.71 L1828.8,601.72 L1830.3,601.73 L1831.8,601.74 L1833.3,601.74 L1834.8,601.75 L1836.3,601.76 L1837.8,601.76 L1839.3,601.77 L1840.8,601.78 L1842.3,601.78 L1843.8,601.79 L1845.3,601.8 L1846.3,601.8" fill="none" stroke="#ff0000" stroke-width="3.3"/>
<path d="M1075.8,601.8 L1075.8,601.8 L1077.3,601.22 L1078.8,599.96 L1080.3,598.68 L1081.8,597.39 L1083.3,596.06 L1084.8,594.7 L1086.3,593.3 L1087.8,591.86 L1089.3,590.38 L1090.8,588.85 L1092.3,587.27 L1093.8,585.65 L1095.3,583.98 L1096.8,582.25 L1098.3,580.48 L1099.8,578.65 L1101.3,576.77 L1102.8,574.84 L1104.3,572.85 L1105.8,570.81 L1107.3,568.71 L1108.8,566.56 L1110.3,564.36 L1111.8,562.11 L1113.3,559.81 L1114.8,557.46 L1116.3,555.06 L1117.8,552.61 L1119.3,550.11 L1120.8,547.56 L1122.3,544.97 L1123.8,542.34 L1125.3,539.66 L1126.8,536.93 L1128.3,534.15 L1129.8,531.33 L1131.3,528.45 L1132.8,525.53 L1134.3,522.56 L1135.8,519.54 L1137.3,516.47 L1138.8,513.35 L1140.3,510.19 L1141.8,506.98 L1143.3,503.73 L1144.8,500.44 L1146.3,497.11 L1147.8,493.76 L1149.3,490.37 L1150.8,486.95 L1152.3,483.51 L1153.8,480.04 L1155.3,476.55 L1156.8,473.05 L1158.3,469.56 L1159.8,466.07 L1161.3,462.6 L1162.8,459.16 L1164.3,455.74 L1165.8,452.35 L1167.3,449 L1168.8,445.7 L1170.3,442.44 L1171.8,439.23 L1173.3,436.09 L1174.8,433 L1176.3,429.98 L1177.8,427.02 L1179.3,424.13 L1180.8,421.32 L1182.3,418.57 L1183.8,415.9 L1185.3,413.29 L1186.8,410.75 L1188.3,408.27 L1189.8,405.85 L1191.3,403.5 L1192.8,401.19 L1194.3,398.95 L1195.8,396.76 L1197.3,394.62 L1198.8,392.54 L1200.3,390.51 L1201.8,388.53 L1203.3,386.59 L1204.8,384.71 L1206.3,382.88 L1207.8,381.1 L1209.3,379.36 L1210.8,377.68 L1212.3,376.04 L1213.8,374.46 L1215.3,372.92 L1216.8,371.43 L1218.3,369.98 L1219.8,368.58 L1221.3,367.23 L1222.8,365.92 L1224.3,364.66 L1225.8,363.44 L1227.3,362.27 L1228.8,361.14 L1230.3,360.06 L1231.8,359.02 L1233.3,358.02 L1234.8,357.07 L1236.3,356.17 L1237.8,355.31 L1239.3,354.49 L1240.8,353.71 L1242.3,352.98 L1243.8,352.29 L1245.3,351.65 L1246.8,351.04 L1248.3,350.48 L1249.8,349.95 L1251.3,349.47 L1252.8,349.02 L1254.3,348.61 L1255.8,348.23 L1257.3,347.89 L1258.8,347.58 L1260.3,347.3 L1261.8,347.05 L1263.3,346.83 L1264.8,346.63 L1266.3,346.47 L1267.8,346.33 L1269.3,346.22 L1270.8,346.13 L1272.3,346.06 L1273.8,346.02 L1275.3,346 L1276.8,346 L1278.3,346.02 L1279.8,346.06 L1281.3,346.12 L1282.8,346.19 L1284.3,346.29 L1285.8,346.39 L1287.3,346.52 L1288.8,346.66 L1290.3,346.81 L1291.8,346.97 L1293.3,347.15 L1294.8,347.34 L1296.3,347.54 L1297.8,347.75 L1299.3,347.97 L1300.8,348.2 L1302.3,348.43 L1303.8,348.68 L1305.3,348.94 L1306.8,349.2 L1308.3,349.48 L1309.8,349.76 L1311.3,350.04 L1312.8,350.34 L1314.3,350.64 L1315.8,350.95 L1317.3,351.26 L1318.8,351.58 L1320.3,351.9 L1321.8,352.23 L1323.3,352.57 L1324.8,352.91 L1326.3,353.25 L1327.8,353.6 L1329.3,353.95 L1330.8,354.3 L1332.3,354.65 L1333.8,355.01 L1335.3,355.37 L1336.8,355.74 L1338.3,356.1 L1339.8,356.48 L1341.3,356.85 L1342.8,357.24 L1344.3,357.63 L1345.8,358.03 L1347.3,358.44 L1348.8,358.87 L1350.3,359.3 L1351.8,359.74 L1353.3,360.2 L1354.8,360.68 L1356.3,361.17 L1357.8,361.67 L1359.3,362.19 L1360.8,362.73 L1362.3,363.29 L1363.8,363.86 L1365.3,364.45 L1366.8,365.05 L1368.3,365.66 L1369.8,366.28 L1371.3,366.9 L1372.8,367.53 L1374.3,368.16 L1375.8,368.8 L1377.3,369.43 L1378.8,370.07 L1380.3,370.72 L1381.8,371.38 L1383.3,372.04 L1384.8,372.72 L1386.3,373.41 L1387.8,374.11 L1389.3,374.84 L1390.8,375.58 L1392.3,376.35 L1393.8,377.14 L1395.3,377.95 L1396.8,378.78 L1398.3,379.63 L1399.8,380.5 L1401.3,381.39 L1402.8,382.3 L1404.3,383.23 L1405.8,384.18 L1407.3,385.14 L1408.8,386.12 L1410.3,387.12 L1411.8,388.14 L1413.3,389.17 L1414.8,390.23 L1416.3,391.31 L1417.8,392.41 L1419.3,393.53 L1420.8,394.67 L1422.3,395.84 L1423.8,397.03 L1425.3,398.25 L1426.8,399.49 L1428.3,400.76 L1429.8,402.05 L1431.3,403.36 L1432.8,404.68 L1434.3,406.03 L1435.8,407.4 L1437.3,408.79 L1438.8,410.19 L1440.3,411.61 L1441.8,413.04 L1443.3,414.5 L1444.8,415.96 L1446.3,417.45 L1447.8,418.96 L1449.3,420.49 L1450.8,422.04 L1452.3,423.61 L1453.8,425.21 L1455.3,426.83 L1456.8,428.48 L1458.3,430.14 L1459.8,431.83 L1461.3,433.55 L1462.8,435.28 L1464.3,437.03 L1465.8,438.81 L1467.3,440.6 L1468.8,442.41 L1470.3,444.24 L1471.8,446.08 L1473.3,447.94 L1474.8,449.8 L1476.3,451.68 L1477.8,453.56 L1479.3,455.45 L1480.8,457.35 L1482.3,459.25 L1483.8,461.15 L1485.3,463.05 L1486.8,464.95 L1488.3,466.86 L1489.8,468.76 L1491.3,470.65 L1492.8,472.54 L1494.3,474.42 L1495.8,476.3 L1497.3,478.16 L1498.8,480.01 L1500.3,481.84 L1501.8,483.66 L1503.3,485.45 L1504.8,487.23 L1506.3,488.98 L1507.8,490.7 L1509.3,492.4 L1510.8,494.08 L1512.3,495.73 L1513.8,497.36 L1515.3,498.96 L1516.8,500.54 L1518.3,502.09 L1519.8,503.61 L1521.3,505.11 L1522.8,506.6 L1524.3,508.06 L1525.8,509.52 L1527.3,510.96 L1528.8,512.39 L1530.3,513.81 L1531.8,515.23 L1533.3,516.64 L1534.8,518.04 L1536.3,519.44 L1537.8,520.84 L1539.3,522.23 L1540.8,523.61 L1542.3,525 L1543.8,526.38 L1545.3,527.77 L1546.8,529.16 L1548.3,530.55 L1549.8,531.95 L1551.3,533.35 L1552.8,534.75 L1554.3,536.15 L1555.8,537.55 L1557.3,538.95 L1558.8,540.35 L1560.3,541.74 L1561.8,543.13 L1563.3,544.52 L1564.8,545.9 L1566.3,547.27 L1567.8,548.63 L1569.3,549.98 L1570.8,551.31 L1572.3,552.62 L1573.8,553.92 L1575.3,555.2 L1576.8,556.45 L1578.3,557.69 L1579.8,558.91 L1581.3,560.1 L1582.8,561.27 L1584.3,562.43 L1585.8,563.56 L1587.3,564.67 L1588.8,565.75 L1590.3,566.82 L1591.8,567.87 L1593.3,568.89 L1594.8,569.9 L1596.3,570.88 L1597.8,571.84 L1599.3,572.78 L1600.8,573.71 L1602.3,574.61 L1603.8,575.49 L1605.3,576.36 L1606.8,577.2 L1608.3,578.03 L1609.8,578.83 L1611.3,579.62 L1612.8,580.38 L1614.3,581.13 L1615.8,581.85 L1617.3,582.55 L1618.8,583.22 L1620.3,583.88 L1621.8,584.51 L1623.3,585.12 L1624.8,585.71 L1626.3,586.27 L1627.8,586.81 L1629.3,587.33 L1630.8,587.83 L1632.3,588.3 L1633.8,588.75 L1635.3,589.17 L1636.8,589.58 L1638.3,589.96 L1639.8,590.33 L1641.3,590.68 L1642.8,591.02 L1644.3,591.34 L1645.8,591.66 L1647.3,591.96 L1648.8,592.26 L1650.3,592.56 L1651.8,592.85 L1653.3,593.14 L1654.8,593.42 L1656.3,593.7 L1657.8,593.97 L1659.3,594.24 L1660.8,594.5 L1662.3,594.76 L1663.8,595.01 L1665.3,595.25 L1666.8,595.49 L1668.3,595.72 L1669.8,595.94 L1671.3,596.16 L1672.8,596.37 L1674.3,596.57 L1675.8,596.77 L1677.3,596.96 L1678.8,597.15 L1680.3,597.33 L1681.8,597.5 L1683.3,597.66 L1684.8,597.82 L1686.3,597.97 L1687.8,598.12 L1689.3,598.26 L1690.8,598.39 L1692.3,598.52 L1693.8,598.64 L1695.3,598.75 L1696.8,598.86 L1698.3,598.96 L1699.8,599.06 L1701.3,599.15 L1702.8,599.23 L1704.3,599.31 L1705.8,599.39 L1707.3,599.46 L1708.8,599.53 L1710.3,599.59 L1711.8,599.65 L1713.3,599.7 L1714.8,599.76 L1716.3,599.81 L1717.8,599.86 L1719.3,599.91 L1720.8,599.96 L1722.3,600 L1723.8,600.05 L1725.3,600.1 L1726.8,600.14 L1728.3,600.18 L1729.8,600.23 L1731.3,600.27 L1732.8,600.31 L1734.3,600.35 L1735.8,600.39 L1737.3,600.43 L1738.8,600.47 L1740.3,600.51 L1741.8,600.55 L1743.3,600.58 L1744.8,600.62 L1746.3,600.66 L1747.8,600.69 L1749.3,600.73 L1750.8,600.76 L1752.3,600.79 L1753.8,600.83 L1755.3,600.86 L1756.8,600.89 L1758.3,600.92 L1759.8,600.95 L1761.3,600.98 L1762.8,601.01 L1764.3,601.04 L1765.8,601.07 L1767.3,601.09 L1768.8,601.12 L1770.3,601.15 L1771.8,601.17 L1773.3,601.2 L1774.8,601.22 L1776.3,601.24 L1777.8,601.27 L1779.3,601.29 L1780.8,601.31 L1782.3,601.33 L1783.8,601.35 L1785.3,601.37 L1786.8,601.39 L1788.3,601.41 L1789.8,601.42 L1791.3,601.44 L1792.8,601.46 L1794.3,601.47 L1795.8,601.49 L1797.3,601.5 L1798.8,601.52 L1800.3,601.53 L1801.8,601.54 L1803.3,601.56 L1804.8,601.57 L1806.3,601.58 L1807.8,601.59 L1809.3,601.6 L1810.8,601.62 L1812.3,601.63 L1813.8,601.64 L1815.3,601.65 L1816.8,601.66 L1818.3,601.66 L1819.8,601.67 L1821.3,601.68 L1822.8,601.69 L1824.3,601.7 L1825.8,601.71 L1827.3,601.71 L1828.8,601.72 L1830.3,601.73 L1831.8,601.74 L1833.3,601.74 L1834.8,601.75 L1836.3,601.76 L1837.8,601.76 L1839.3,601.77 L1840.8,601.78 L1842.3,601.78 L1843.8,601.79 L1845.3,601.8 L1846.3,601.8 L1846.3,601.8 Z" fill="#00ff00" fill-opacity="0.3" stroke="none"/>
<path d="M1075.8,601.8 L1077.3,601.22 L1078.8,599.96 L1080.3,598.68 L1081.8,597.39 L1083.3,596.06 L1084.8,594.7 L1086.3,593.3 L1087.8,591.86 L1089.3,590.38 L1090.8,588.85 L1092.3,587.27 L1093.8,585.65 L1095.3,583.98 L1096.8,582.25 L1098.3,580.48 L1099.8,578.65 L1101.3,576.77 L1102.8,574.84 L1104.3,572.85 L1105.8,570.81 L1107.3,568.71 L1108.8,566.56 L1110.3,564.36 L1111.8,562.11 L1113.3,559.81 L1114.8,557.46 L1116.3,555.06 L1117.8,552.61 L1119.3,550.11 L1120.8,547.56 L1122.3,544.97 L1123.8,542.34 L1125.3,539.66 L1126.8,536.93 L1128.3,534.15 L1129.8,531.33 L1131.3,528.45 L1132.8,525.53 L1134.3,522.56 L1135.8,519.54 L1137.3,516.47 L1138.8,513.35 L1140.3,510.19 L1141.8,506.98 L1143.3,503.73 L1144.8,500.44 L1146.3,497.11 L1147.8,493.76 L1149.3,490.37 L1150.8,486.95 L1152.3,483.51 L1153.8,480.04 L1155.3,476.55 L1156.8,473.05 L1158.3,469.56 L1159.8,466.07 L1161.3,462.6 L1162.8,459.16 L1164.3,455.74 L1165.8,452.35 L1167.3,449 L1168.8,445.7 L1170.3,442.44 L1171.8,439.23 L1173.3,436.09 L1174.8,433 L1176.3,429.98 L1177.8,427.02 L1179.3,424.13 L1180.8,421.32 L1182.3,418.57 L1183.8,415.9 L1185.3,413.29 L1186.8,410.75 L1188.3,408.27 L1189.8,405.85 L1191.3,403.5 L1192.8,401.19 L1194.3,398.95 L1195.8,396.76 L1197.3,394.62 L1198.8,392.54 L1200.3,390.51 L1201.8,388.53 L1203.3,386.59 L1204.8,384.71 L1206.3,382.88 L1207.8,381.1 L1209.3,379.36 L1210.8,377.68 L1212.3,376.04 L1213.8,374.46 L1215.3,372.92 L1216.8,371.43 L1218.3,369.98 L1219.8,368.58 L1221.3,367.23 L1222.8,365.92 L1224.3,364.66 L1225.8,363.44 L1227.3,362.27 L1228.8,361.14 L1230.3,360.06 L1231.8,359.02 L1233.3,358.02 L1234.8,357.07 L1236.3,356.17 L1237.8,355.31 L1239.3,354.49 L1240.8,353.71 L1242.3,352.98 L1243.8,352.29 L1245.3,351.65 L1246.8,351.04 L1248.3,350.48 L1249.8,349.95 L1251.3,349.47 L1252.8,349.02 L1254.3,348.61 L1255.8,348.23 L1257.3,347.89 L1258.8,347.58 L1260.3,347.3 L1261.8,347.05 L1263.3,346.83 L1264.8,346.63 L1266.3,346.47 L1267.8,346.33 L1269.3,346.22 L1270.8,346.13 L1272.3,346.06 L1273.8,346.02 L1275.3,346 L1276.8,346 L1278.3,346.02 L1279.8,346.06 L1281.3,346.12 L1282.8,346.19 L1284.3,346.29 L1285.8,346.39 L1287.3,346.52 L1288.8,346.66 L1290.3,346.81 L1291.8,346.97 L1293.3,347.15 L1294.8,347.34 L1296.3,347.54 L1297.8,347.75 L1299.3,347.97 L1300.8,348.2 L1302.3,348.43 L1303.8,348.68 L1305.3,348.94 L1306.8,349.2 L1308.3,349.48 L1309.8,349.76 L1311.3,350.04 L1312.8,350.34 L1314.3,350.64 L1315.8,350.95 L1317.3,351.26 L1318.8,351.58 L1320.3,351.9 L1321.8,352.23 L1323.3,352.57 L1324.8,352.91 L1326.3,353.25 L1327.8,353.6 L1329.3,353.95 L1330.8,354.3 L1332.3,354.65 L1333.8,355.01 L1335.3,355.37 L1336.8,355.74 L1338.3,356.1 L1339.8,356.48 L1341.3,356.85 L1342.8,357.24 L1344.3,357.63 L1345.8,358.03 L1347.3,358.44 L1348.8,358.87 L1350.3,359.3 L1351.8,359.74 L1353.3,360.2 L1354.8,360.68 L1356.3,361.17 L1357.8,361.67 L1359.3,362.19 L1360.8,362.73 L1362.3,363.29 L1363.8,363.86 L1365.3,364.45 L1366.8,365.05 L1368.3,365.66 L1369.8,366.28 L1371.3,366.9 L1372.8,367.53 L1374.3,368.16 L1375.8,368.8 L1377.3,369.43 L1378.8,370.07 L1380.3,370.72 L1381.8,371.38 L1383.3,372.04 L1384.8,372.72 L1386.3,373.41 L1387.8,374.11 L1389.3,374.84 L1390.8,375.58 L1392.3,376.35 L1393.8,377.14 L1395.3,377.95 L1396.8,378.78 L1398.3,379.63 L1399.8,380.5 L1401.3,381.39 L1402.8,382.3 L1404.3,383.23 L1405.8,384.18 L1407.3,385.14 L1408.8,386.12 L1410.3,387.12 L1411.8,388.14 L1413.3,389.17 L1414.8,390.23 L1416.3,391.31 L1417.8,392.41 L1419.3,393.53 L1420.8,394.67 L1422.3,395.84 L1423.8,397.03 L1425.3,398.25 L1426.8,399.49 L1428.3,400.76 L1429.8,402.05 L1431.3,403.36 L1432.8,404.68 L1434.3,406.03 L1435.8,407.4 L1437.3,408.79 L1438.8,410.19 L1440.3,411.61 L1441.8,413.04 L1443.3,414.5 L1444.8,415.96 L1446.3,417.45 L1447.8,418.96 L1449.3,420.49 L1450.8,422.04 L1452.3,423.61 L1453.8,425.21 L1455.3,426.83 L1456.8,428.48 L1458.3,430.14 L1459.8,431.83 L1461.3,433.55 L1462.8,435.28 L1464.3,437.03 L1465.8,438.81 L1467.3,440.6 L1468.8,442.41 L1470.3,444.24 L1471.8,446.08 L1473.3,447.94 L1474.8,449.8 L1476.3,451.68 L1477.8,453.56 L1479.3,455.45 L1480.8,457.35 L1482.3,459.25 L1483.8,461.15 L1485.3,463.05 L1486.8,464.95 L1488.3,466.86 L1489.8,468.76 L1491.3,470.65 L1492.8,472.54 L1494.3,474.42 L1495.8,476.3 L1497.3,478.16 L1498.8,480.01 L1500.3,481.84 L1501.8,483.66 L1503.3,485.45 L1504.8,487.23 L1506.3,488.98 L1507.8,490.7 L1509.3,492.4 L1510.8,494.08 L1512.3,495.73 L1513.8,497.36 L1515.3,498.96 L1516.8,500.54 L1518.3,502.09 L1519.8,503.61 L1521.3,505.11 L1522.8,506.6 L1524.3,508.06 L1525.8,509.52 L1527.3,510.96 L1528.8,512.39 L1530.3,513.81 L1531.8,515.23 L1533.3,516.64 L1534.8,518.04 L1536.3,519.44 L1537.8,520.84 L1539.3,522.23 L1540.8,523.61 L1542.3,525 L1543.8,526.38 L1545.3,527.77 L1546.8,529.16 L1548.3,530.55 L1549.8,531.95 L1551.3,533.35 L1552.8,534.75 L1554.3,536.15 L1555.8,537.55 L1557.3,538.95 L1558.8,540.35 L1560.3,541.74 L1561.8,543.13 L1563.3,544.52 L1564.8,545.9 L1566.3,547.27 L1567.8,548.63 L1569.3,549.98 L1570.8,551.31 L1572.3,552.62 L1573.8,553.92 L1575.3,555.2 L1576.8,556.45 L1578.3,557.69 L1579.8,558.91 L1581.3,560.1 L1582.8,561.27 L1584.3,562.43 L1585.8,563.56 L1587.3,564.67 L1588.8,565.75 L1590.3,566.82 L1591.8,567.87 L1593.3,568.89 L1594.8,569.9 L1596.3,570.88 L1597.8,571.84 L1599.3,572.78 L1600.8,573.71 L1602.3,574.61 L1603.8,575.49 L1605.3,576.36 L1606.8,577.2 L1608.3,578.03 L1609.8,578.83 L1611.3,579.62 L1612.8,580.38 L1614.3,581.13 L1615.8,581.85 L1617.3,582.55 L1618.8,583.22 L1620.3,583.88 L1621.8,584.51 L1623.3,585.12 L1624.8,585.71 L1626.3,586.27 L1627.8,586.81 L1629.3,587.33 L1630.8,587.83 L1632.3,588.3 L1633.8,588.75 L1635.3,589.17 L1636.8,589.58 L1638.3,589.96 L1639.8,590.33 L1641.3,590.68 L1642.8,591.02 L1644.3,591.34 L1645.8,591.66 L1647.3,591.96 L1648.8,592.26 L1650.3,592.56 L1651.8,592.85 L1653.3,593.14 L1654.8,593.42 L1656.3,593.7 L1657.8,593.97 L1659.3,594.24 L1660.8,594.5 L1662.3,594.76 L1663.8,595.01 L1665.3,595.25 L1666.8,595.49 L1668.3,595.72 L1669.8,595.94 L1671.3,596.16 L1672.8,596.37 L1674.3,596.57 L1675.8,596.77 L1677.3,596.96 L1678.8,597.15 L1680.3,597.33 L1681.8,597.5 L1683.3,597.66 L1684.8,597.82 L1686.3,597.97 L1687.8,598.12 L1689.3,598.26 L1690.8,598.39 L1692.3,598.52 L1693.8,598.64 L1695.3,598.75 L1696.8,598.86 L1698.3,598.96 L1699.8,599.06 L1701.3,599.15 L1702.8,599.23 L1704.3,599.31 L1705.8,599.39 L1707.3,599.46 L1708.8,599.53 L1710.3,599.59 L1711.8,599.65 L1713.3,599.7 L1714.8,599.76 L1716.3,599.81 L1717.8,599.86 L1719.3,599.91 L1720.8,599.96 L1722.3,600 L1723.8,600.05 L1725.3,600.1 L1726.8,600.14 L1728.3,600.18 L1729.8,600.23 L1731.3,600.27 L1732.8,600.31 L1734.3,600.35 L1735.8,600.39 L1737.3,600.43 L1738.8,600.47 L1740.3,600.51 L1741.8,600.55 L1743.3,600.58 L1744.8,600.62 L1746.3,600.66 L1747.8,600.69 L1749.3,600.73 L1750.8,600.76 L1752.3,600.79 L1753.8,600.83 L1755.3,600.86 L1756.8,600.89 L1758.3,600.92 L1759.8,600.95 L1761.3,600.98 L1762.8,601.01 L1764.3,601.04 L1765.8,601.07 L1767.3,601.09 L1768.8,601.12 L1770.3,601.15 L1771.8,601.17 L1773.3,601.2 L1774.8,601.22 L1776.3,601.24 L1777.8,601.27 L1779.3,601.29 L1780.8,601.31 L1782.3,601.33 L1783.8,601.35 L1785.3,601.37 L1786.8,601.39 L1788.3,601.41 L1789.8,601.42 L1791.3,601.44 L1792.8,601.46 L1794.3,601.47 L1795.8,601.49 L1797.3,601.5 L1798.8,601.52 L1800.3,601.53 L1801.8,601.54 L1803.3,601.56 L1804.8,601.57 L1806.3,601.58 L1807.8,601.59 L1809.3,601.6 L1810.8,601.62 L1812.3,601.63 L1813.8,601.64 L1815.3,601.65 L1816.8,601.66 L1818.3,601.66 L1819.8,601.67 L1821.3,601.68 L1822.8,601.69 L1824.3,601.7 L1825.8,601.71 L1827.3,601.71 L1828.8,601.72 L1830.3,601.73 L1831.8,601.74 L1833.3,601.74 L1834.8,601.75 L1836.3,601.76 L1837.8,601.76 L1839.3,601.77 L1840.8,601.78 L1842.3,601.78 L1843.8,601.79 L1845.3,601.8 L1846.3,601.8" fill="none" stroke="#00ff00" stroke-width="3.3"/>
<path d="M1075.8,601.8 L1075.8,601.8 L1077.3,601.8 L1078.8,601.79 L1080.3,601.78 L1081.8,601.76 L1083.3,601.74 L1084.8,601.73 L1086.3,601.71 L1087.8,601.69 L1089.3,601.66 L1090.8,601.64 L1092.3,601.61 L1093.8,601.58 L1095.3,601.55 L1096.8,601.52 L1098.3,601.48 L1099.8,601.43 L1101.3,601.39 L1102.8,601.33 L1104.3,601.27 L1105.8,601.21 L1107.3,601.14 L1108.8,601.06 L1110.3,600.98 L1111.8,600.89 L1113.3,600.79 L1114.8,600.68 L1116.3,600.57 L1117.8,600.44 L1119.3,600.31 L1120.8,600.16 L1122.3,600 L1123.8,599.83 L1125.3,599.64 L1126.8,599.43 L1128.3,599.21 L1129.8,598.97 L1131.3,598.7 L1132.8,598.42 L1134.3,598.11 L1135.8,597.78 L1137.3,597.43 L1138.8,597.05 L1140.3,596.65 L1141.8,596.22 L1143.3,595.77 L1144.8,595.29 L1146.3,594.79 L1147.8,594.26 L1149.3,593.71 L1150.8,593.12 L1152.3,592.52 L1153.8,591.88 L1155.3,591.22 L1156.8,590.54 L1158.3,589.82 L1159.8,589.08 L1161.3,588.32 L1162.8,587.52 L1164.3,586.7 L1165.8,585.85 L1167.3,584.98 L1168.8,584.08 L1170.3,583.16 L1171.8,582.22 L1173.3,581.26 L1174.8,580.28 L1176.3,579.28 L1177.8,578.27 L1179.3,577.24 L1180.8,576.2 L1182.3,575.14 L1183.8,574.08 L1185.3,573 L1186.8,571.91 L1188.3,570.82 L1189.8,569.71 L1191.3,568.6 L1192.8,567.48 L1194.3,566.35 L1195.8,565.21 L1197.3,564.07 L1198.8,562.92 L1200.3,561.76 L1201.8,560.6 L1203.3,559.43 L1204.8,558.25 L1206.3,557.07 L1207.8,555.88 L1209.3,554.69 L1210.8,553.49 L1212.3,552.29 L1213.8,551.09 L1215.3,549.89 L1216.8,548.68 L1218.3,547.48 L1219.8,546.28 L1221.3,545.08 L1222.8,543.88 L1224.3,542.68 L1225.8,541.49 L1227.3,540.29 L1228.8,539.11 L1230.3,537.92 L1231.8,536.74 L1233.3,535.56 L1234.8,534.39 L1236.3,533.22 L1237.8,532.06 L1239.3,530.9 L1240.8,529.75 L1242.3,528.6 L1243.8,527.46 L1245.3,526.31 L1246.8,525.18 L1248.3,524.04 L1249.8,522.91 L1251.3,521.78 L1252.8,520.66 L1254.3,519.53 L1255.8,518.41 L1257.3,517.29 L1258.8,516.17 L1260.3,515.05 L1261.8,513.93 L1263.3,512.82 L1264.8,511.71 L1266.3,510.61 L1267.8,509.5 L1269.3,508.4 L1270.8,507.31 L1272.3,506.22 L1273.8,505.13 L1275.3,504.04 L1276.8,502.95 L1278.3,501.87 L1279.8,500.78 L1281.3,499.7 L1282.8,498.61 L1284.3,497.52 L1285.8,496.43 L1287.3,495.34 L1288.8,494.24 L1290.3,493.14 L1291.8,492.04 L1293.3,490.93 L1294.8,489.82 L1296.3,488.7 L1297.8,487.59 L1299.3,486.47 L1300.8,485.36 L1302.3,484.25 L1303.8,483.14 L1305.3,482.04 L1306.8,480.94 L1308.3,479.84 L1309.8,478.76 L1311.3,477.67 L1312.8,476.6 L1314.3,475.54 L1315.8,474.48 L1317.3,473.43 L1318.8,472.39 L1320.3,471.36 L1321.8,470.34 L1323.3,469.32 L1324.8,468.32 L1326.3,467.32 L1327.8,466.33 L1329.3,465.34 L1330.8,464.37 L1332.3,463.41 L1333.8,462.45 L1335.3,461.5 L1336.8,460.56 L1338.3,459.64 L1339.8,458.72 L1341.3,457.81 L1342.8,456.91 L1344.3,456.03 L1345.8,455.15 L1347.3,454.29 L1348.8,453.44 L1350.3,452.6 L1351.8,451.77 L1353.3,450.95 L1354.8,450.15 L1356.3,449.37 L1357.8,448.6 L1359.3,447.84 L1360.8,447.11 L1362.3,446.4 L1363.8,445.71 L1365.3,445.03 L1366.8,444.39 L1368.3,443.76 L1369.8,443.17 L1371.3,442.6 L1372.8,442.06 L1374.3,441.54 L1375.8,441.06 L1377.3,440.6 L1378.8,440.17 L1380.3,439.77 L1381.8,439.39 L1383.3,439.04 L1384.8,438.72 L1386.3,438.43 L1387.8,438.16 L1389.3,437.91 L1390.8,437.69 L1392.3,437.5 L1393.8,437.33 L1395.3,437.18 L1396.8,437.06 L1398.3,436.97 L1399.8,436.9 L1401.3,436.86 L1402.8,436.84 L1404.3,436.85 L1405.8,436.89 L1407.3,436.95 L1408.8,437.05 L1410.3,437.16 L1411.8,437.31 L1413.3,437.48 L1414.8,437.67 L1416.3,437.9 L1417.8,438.14 L1419.3,438.42 L1420.8,438.72 L1422.3,439.05 L1423.8,439.4 L1425.3,439.78 L1426.8,440.19 L1428.3,440.62 L1429.8,441.08 L1431.3,441.56 L1432.8,442.07 L1434.3,442.61 L1435.8,443.17 L1437.3,443.77 L1438.8,444.39 L1440.3,445.04 L1441.8,445.72 L1443.3,446.43 L1444.8,447.18 L1446.3,447.96 L1447.8,448.77 L1449.3,449.62 L1450.8,450.51 L1452.3,451.44 L1453.8,452.41 L1455.3,453.4 L1456.8,454.43 L1458.3,455.49 L1459.8,456.59 L1461.3,457.71 L1462.8,458.85 L1464.3,460.02 L1465.8,461.22 L1467.3,462.44 L1468.8,463.67 L1470.3,464.93 L1471.8,466.2 L1473.3,467.48 L1474.8,468.78 L1476.3,470.09 L1477.8,471.41 L1479.3,472.73 L1480.8,474.06 L1482.3,475.39 L1483.8,476.74 L1485.3,478.08 L1486.8,479.43 L1488.3,480.79 L1489.8,482.16 L1491.3,483.53 L1492.8,484.91 L1494.3,486.29 L1495.8,487.68 L1497.3,489.07 L1498.8,490.46 L1500.3,491.85 L1501.8,493.25 L1503.3,494.64 L1504.8,496.03 L1506.3,497.41 L1507.8,498.79 L1509.3,500.17 L1510.8,501.53 L1512.3,502.9 L1513.8,504.25 L1515.3,505.59 L1516.8,506.93 L1518.3,508.25 L1519.8,509.57 L1521.3,510.88 L1522.8,512.18 L1524.3,513.49 L1525.8,514.8 L1527.3,516.11 L1528.8,517.43 L1530.3,518.77 L1531.8,520.11 L1533.3,521.47 L1534.8,522.83 L1536.3,524.2 L1537.8,525.58 L1539.3,526.97 L1540.8,528.35 L1542.3,529.74 L1543.8,531.12 L1545.3,532.51 L1546.8,533.89 L1548.3,535.26 L1549.8,536.63 L1551.3,537.99 L1552.8,539.34 L1554.3,540.68 L1555.8,542.01 L1557.3,543.33 L1558.8,544.64 L1560.3,545.93 L1561.8,547.21 L1563.3,548.47 L1564.8,549.72 L1566.3,550.95 L1567.8,552.17 L1569.3,553.37 L1570.8,554.55 L1572.3,555.72 L1573.8,556.87 L1575.3,558 L1576.8,559.11 L1578.3,560.21 L1579.8,561.29 L1581.3,562.36 L1582.8,563.4 L1584.3,564.44 L1585.8,565.45 L1587.3,566.45 L1588.8,567.44 L1590.3,568.41 L1591.8,569.37 L1593.3,570.31 L1594.8,571.24 L1596.3,572.15 L1597.8,573.05 L1599.3,573.93 L1600.8,574.8 L1602.3,575.65 L1603.8,576.49 L1605.3,577.31 L1606.8,578.11 L1608.3,578.9 L1609.8,579.67 L1611.3,580.42 L1612.8,581.16 L1614.3,581.87 L1615.8,582.57 L1617.3,583.24 L1618.8,583.9 L1620.3,584.53 L1621.8,585.14 L1623.3,585.73 L1624.8,586.3 L1626.3,586.85 L1627.8,587.37 L1629.3,587.88 L1630.8,588.36 L1632.3,588.82 L1633.8,589.26 L1635.3,589.68 L1636.8,590.08 L1638.3,590.46 L1639.8,590.83 L1641.3,591.18 L1642.8,591.51 L1644.3,591.84 L1645.8,592.15 L1647.3,592.45 L1648.8,592.74 L1650.3,593.03 L1651.8,593.3 L1653.3,593.57 L1654.8,593.83 L1656.3,594.08 L1657.8,594.33 L1659.3,594.58 L1660.8,594.82 L1662.3,595.06 L1663.8,595.29 L1665.3,595.52 L1666.8,595.75 L1668.3,595.97 L1669.8,596.18 L1671.3,596.39 L1672.8,596.59 L1674.3,596.79 L1675.8,596.98 L1677.3,597.17 L1678.8,597.34 L1680.3,597.51 L1681.8,597.67 L1683.3,597.82 L1684.8,597.97 L1686.3,598.11 L1687.8,598.24 L1689.3,598.36 L1690.8,598.48 L1692.3,598.59 L1693.8,598.69 L1695.3,598.79 L1696.8,598.89 L1698.3,598.97 L1699.8,599.05 L1701.3,599.13 L1702.8,599.2 L1704.3,599.27 L1705.8,599.33 L1707.3,599.39 L1708.8,599.44 L1710.3,599.5 L1711.8,599.55 L1713.3,599.6 L1714.8,599.64 L1716.3,599.69 L1717.8,599.73 L1719.3,599.78 L1720.8,599.82 L1722.3,599.87 L1723.8,599.91 L1725.3,599.96 L1726.8,600 L1728.3,600.05 L1729.8,600.09 L1731.3,600.13 L1732.8,600.18 L1734.3,600.22 L1735.8,600.26 L1737.3,600.3 L1738.8,600.35 L1740.3,600.39 L1741.8,600.43 L1743.3,600.47 L1744.8,600.51 L1746.3,600.55 L1747.8,600.59 L1749.3,600.63 L1750.8,600.67 L1752.3,600.71 L1753.8,600.75 L1755.3,600.78 L1756.8,600.82 L1758.3,600.86 L1759.8,600.89 L1761.3,600.92 L1762.8,600.95 L1764.3,600.99 L1765.8,601.02 L1767.3,601.05 L1768.8,601.07 L1770.3,601.1 L1771.8,601.13 L1773.3,601.15 L1774.8,601.18 L1776.3,601.2 L1777.8,601.23 L1779.3,601.25 L1780.8,601.27 L1782.3,601.29 L1783.8,601.31 L1785.3,601.33 L1786.8,601.35 L1788.3,601.37 L1789.8,601.39 L1791.3,601.41 L1792.8,601.43 L1794.3,601.44 L1795.8,601.46 L1797.3,601.47 L1798.8,601.49 L1800.3,601.5 L1801.8,601.52 L1803.3,601.53 L1804.8,601.54 L1806.3,601.56 L1807.8,601.57 L1809.3,601.58 L1810.8,601.59 L1812.3,601.6 L1813.8,601.62 L1815.3,601.63 L1816.8,601.64 L1818.3,601.65 L1819.8,601.66 L1821.3,601.67 L1822.8,601.68 L1824.3,601.68 L1825.8,601.69 L1827.3,601.7 L1828.8,601.71 L1830.3,601.72 L1831.8,601.73 L1833.3,601.74 L1834.8,601.74 L1836.3,601.75 L1837.8,601.76 L1839.3,601.77 L1840.8,601.77 L1842.3,601.78 L1843.8,601.79 L1845.3,601.8 L1846.3,601.8 L1846.3,601.8 Z" fill="#0000ff" fill-opacity="0.3" stroke="none"/>
<path d="M1075.8,601.8 L1077.3,601.8 L1078.8,601.79 L1080.3,601.78 L1081.8,601.76 L1083.3,601.74 L1084.8,601.73 L1086.3,601.71 L1087.8,601.69 L1089.3,601.66 L1090.8,601.64 L1092.3,601.61 L1093.8,601.58 L1095.3,601.55 L1096.8,601.52 L1098.3,601.48 L1099.8,601.43 L1101.3,601.39 L1102.8,601.33 L1104.3,601.27 L1105.8,601.21 L1107.3,601.14 L1108.8,601.06 L1110.3,600.98 L1111.8,600.89 L1113.3,600.79 L1114.8,600.68 L1116.3,600.57 L1117.8,600.44 L1119.3,600.31 L1120.8,600.16 L1122.3,600 L1123.8,599.83 L1125.3,599.64 L1126.8,599.43 L1128.3,599.21 L1129.8,598.97 L1131.3,598.7 L1132.8,598.42 L1134.3,598.11 L1135.8,597.78 L1137.3,597.43 L1138.8,597.05 L1140.3,596.65 L1141.8,596.22 L1143.3,595.77 L1144.8,595.29 L1146.3,594.79 L1147.8,594.26 L1149.3,593.71 L1150.8,593.12 L1152.3,592.52 L1153.8,591.88 L1155.3,591.22 L1156.8,590.54 L1158.3,589.82 L1159.8,589.08 L1161.3,588.32 L1162.8,587.52 L1164.3,586.7 L1165.8,585.85 L1167.3,584.98 L1168.8,584.08 L1170.3,583.16 L1171.8,582.22 L1173.3,581.26 L1174.8,580.28 L1176.3,579.28 L1177.8,578.27 L1179.3,577.24 L1180.8,576.2 L1182.3,575.14 L1183.8,574.08 L1185.3,573 L1186.8,571.91 L1188.3,570.82 L1189.8,569.71 L1191.3,568.6 L1192.8,567.48 L1194.3,566.35 L1195.8,565.21 L1197.3,564.07 L1198.8,562.92 L1200.3,561.76 L1201.8,560.6 L1203.3,559.43 L1204.8,558.25 L1206.3,557.07 L1207.8,555.88 L1209.3,554.69 L1210.8,553.49 L1212.3,552.29 L1213.8,551.09 L1215.3,549.89 L1216.8,548.68 L1218.3,547.48 L1219.8,546.28 L1221.3,545.08 L1222.8,543.88 L1224.3,542.68 L1225.8,541.49 L1227.3,540.29 L1228.8,539.11 L1230.3,537.92 L1231.8,536.74 L1233.3,535.56 L1234.8,534.39 L1236.3,533.22 L1237.8,532.06 L1239.3,530.9 L1240.8,529.75 L1242.3,528.6 L1243.8,527.46 L1245.3,526.31 L1246.8,525.18 L1248.3,524.04 L1249.8,522.91 L1251.3,521.78 L1252.8,520.66 L1254.3,519.53 L1255.8,518.41 L1257.3,517.29 L1258.8,516.17 L1260.3,515.05 L1261.8,513.93 L1263.3,512.82 L1264.8,511.71 L1266.3,510.61 L1267.8,509.5 L1269.3,508.4 L1270.8,507.31 L1272.3,506.22 L1273.8,505.13 L1275.3,504.04 L1276.8,502.95 L1278.3,501.87 L1279.8,500.78 L1281.3,499.7 L1282.8,498.61 L1284.3,497.52 L1285.8,496.43 L1287.3,495.34 L1288.8,494.24 L1290.3,493.14 L1291.8,492.04 L1293.3,490.93 L1294.8,489.82 L1296.3,488.7 L1297.8,487.59 L1299.3,486.47 L1300.8,485.36 L1302.3,484.25 L1303.8,483.14 L1305.3,482.04 L1306.8,480.94 L1308.3,479.84 L1309.8,478.76 L1311.3,477.67 L1312.8,476.6 L1314.3,475.54 L1315.8,474.48 L1317.3,473.43 L1318.8,472.39 L1320.3,471.36 L1321.8,470.34 L1323.3,469.32 L1324.8,468.32 L1326.3,467.32 L1327.8,466.33 L1329.3,465.34 L1330.8,464.37 L1332.3,463.41 L1333.8,462.45 L1335.3,461.5 L1336.8,460.56 L1338.3,459.64 L1339.8,458.72 L1341.3,457.81 L1342.8,456.91 L1344.3,456.03 L1345.8,455.15 L1347.3,454.29 L1348.8,453.44 L1350.3,452.6 L1351.8,451.77 L1353.3,450.95 L1354.8,450.15 L1356.3,449.37 L1357.8,448.6 L1359.3,447.84 L1360.8,447.11 L1362.3,446.4 L1363.8,445.71 L1365.3,445.03 L1366.8,444.39 L1368.3,443.76 L1369.8,443.17 L1371.3,442.6 L1372.8,442.06 L1374.3,441.54 L1375.8,441.06 L1377.3,440.6 L1378.8,440.17 L1380.3,439.77 L1381.8,439.39 L1383.3,439.04 L1384.8,438.72 L1386.3,438.43 L1387.8,438.16 L1389.3,437.91 L1390.8,437.69 L1392.3,437.5 L1393.8,437.33 L1395.3,437.18 L1396.8,437.06 L1398.3,436.97 L1399.8,436.9 L1401.3,436.86 L1402.8,436.84 L1404.3,436.85 L1405.8,436.89 L1407.3,436.95 L1408.8,437.05 L1410.3,437.16 L1411.8,437.31 L1413.3,437.48 L1414.8,437.67 L1416.3,437.9 L1417.8,438.14 L1419.3,438.42 L1420.8,438.72 L1422.3,439.05 L1423.8,439.4 L1425.3,439.78 L1426.8,440.19 L1428.3,440.62 L1429.8,441.08 L1431.3,441.56 L1432.8,442.07 L1434.3,442.61 L1435.8,443.17 L1437.3,443.77 L1438.8,444.39 L1440.3,445.04 L1441.8,445.72 L1443.3,446.43 L1444.8,447.18 L1446.3,447.96 L1447.8,448.77 L1449.3,449.62 L1450.8,450.51 L1452.3,451.44 L1453.8,452.41 L1455.3,453.4 L1456.8,454.43 L1458.3,455.49 L1459.8,456.59 L1461.3,457.71 L1462.8,458.85 L1464.3,460.02 L1465.8,461.22 L1467.3,462.44 L1468.8,463.67 L1470.3,464.93 L1471.8,466.2 L1473.3,467.48 L1474.8,468.78 L1476.3,470.09 L1477.8,471.41 L1479.3,472.73 L1480.8,474.06 L1482.3,475.39 L1483.8,476.74 L1485.3,478.08 L1486.8,479.43 L1488.3,480.79 L1489.8,482.16 L1491.3,483.53 L1492.8,484.91 L1494.3,486.29 L1495.8,487.68 L1497.3,489.07 L1498.8,490.46 L1500.3,491.85 L1501.8,493.25 L1503.3,494.64 L1504.8,496.03 L1506.3,497.41 L1507.8,498.79 L1509.3,500.17 L1510.8,501.53 L1512.3,502.9 L1513.8,504.25 L1515.3,505.59 L1516.8,506.93 L1518.3,508.25 L1519.8,509.57 L1521.3,510.88 L1522.8,512.18 L1524.3,513.49 L1525.8,514.8 L1527.3,516.11 L1528.8,517.43 L1530.3,518.77 L1531.8,520.11 L1533.3,521.47 L1534.8,522.83 L1536.3,524.2 L1537.8,525.58 L1539.3,526.97 L1540.8,528.35 L1542.3,529.74 L1543.8,531.12 L1545.3,532.51 L1546.8,533.89 L1548.3,535.26 L1549.8,536.63 L1551.3,537.99 L1552.8,539.34 L1554.3,540.68 L1555.8,542.01 L1557.3,543.33 L1558.8,544.64 L1560.3,545.93 L1561.8,547.21 L1563.3,548.47 L1564.8,549.72 L1566.3,550.95 L1567.8,552.17 L1569.3,553.37 L1570.8,554.55 L1572.3,555.72 L1573.8,556.87 L1575.3,558 L1576.8,559.11 L1578.3,560.21 L1579.8,561.29 L1581.3,562.36 L1582.8,563.4 L1584.3,564.44 L1585.8,565.45 L1587.3,566.45 L1588.8,567.44 L1590.3,568.41 L1591.8,569.37 L1593.3,570.31 L1594.8,571.24 L1596.3,572.15 L1597.8,573.05 L1599.3,573.93 L1600.8,574.8 L1602.3,575.65 L1603.8,576.49 L1605.3,577.31 L1606.8,578.11 L1608.3,578.9 L1609.8,579.67 L1611.3,580.42 L1612.8,581.16 L1614.3,581.87 L1615.8,582.57 L1617.3,583.24 L1618.8,583.9 L1620.3,584.53 L1621.8,585.14 L1623.3,585.73 L1624.8,586.3 L1626.3,586.85 L1627.8,587.37 L1629.3,587.88 L1630.8,588.36 L1632.3,588.82 L1633.8,589.26 L1635.3,589.68 L1636.8,590.08 L1638.3,590.46 L1639.8,590.83 L1641.3,591.18 L1642.8,591.51 L1644.3,591.84 L1645.8,592.15 L1647.3,592.45 L1648.8,592.74 L1650.3,593.03 L1651.8,593.3 L1653.3,593.57 L1654.8,593.83 L1656.3,594.08 L1657.8,594.33 L1659.3,594.58 L1660.8,594.82 L1662.3,595.06 L1663.8,595.29 L1665.3,595.52 L1666.8,595.75 L1668.3,595.97 L1669.8,596.18 L1671.3,596.39 L1672.8,596.59 L1674.3,596.79 L1675.8,596.98 L1677.3,597.17 L1678.8,597.34 L1680.3,597.51 L1681.8,597.67 L1683.3,597.82 L1684.8,597.97 L1686.3,598.11 L1687.8,598.24 L1689.3,598.36 L1690.8,598.48 L1692.3,598.59 L1693.8,598.69 L1695.3,598.79 L1696.8,598.89 L1698.3,598.97 L1699.8,599.05 L1701.3,599.13 L1702.8,599.2 L1704.3,599.27 L1705.8,599.33 L1707.3,599.39 L1708.8,599.44 L1710.3,599.5 L1711.8,599.55 L1713.3,599.6 L1714.8,599.64 L1716.3,599.69 L1717.8,599.73 L1719.3,599.78 L1720.8,599.82 L1722.3,599.87 L1723.8,599.91 L1725.3,599.96 L1726.8,600 L1728.3,600.05 L1729.8,600.09 L1731.3,600.13 L1732.8,600.18 L1734.3,600.22 L1735.8,600.26 L1737.3,600.3 L1738.8,600.35 L1740.3,600.39 L1741.8,600.43 L1743.3,600.47 L1744.8,600.51 L1746.3,600.55 L1747.8,600.59 L1749.3,600.63 L1750.8,600.67 L1752.3,600.71 L1753.8,600.75 L1755.3,600.78 L1756.8,600.82 L1758.3,600.86 L1759.8,600.89 L1761.3,600.92 L1762.8,600.95 L1764.3,600.99 L1765.8,601.02 L1767.3,601.05 L1768.8,601.07 L1770.3,601.1 L1771.8,601.13 L1773.3,601.15 L1774.8,601.18 L1776.3,601.2 L1777.8,601.23 L1779.3,601.25 L1780.8,601.27 L1782.3,601.29 L1783.8,601.31 L1785.3,601.33 L1786.8,601.35 L1788.3,601.37 L1789.8,601.39 L1791.3,601.41 L1792.8,601.43 L1794.3,601.44 L1795.8,601.46 L1797.3,601.47 L1798.8,601.49 L1800.3,601.5 L1801.8,601.52 L1803.3,601.53 L1804.8,601.54 L1806.3,601.56 L1807.8,601.57 L1809.3,601.58 L1810.8,601.59 L1812.3,601.6 L1813.8,601.62 L1815.3,601.63 L1816.8,601.64 L1818.3,601.65 L1819.8,601.66 L1821.3,601.67 L1822.8,601.68 L1824.3,601.68 L1825.8,601.69 L1827.3,601.7 L1828.8,601.71 L1830.3,601.72 L1831.8,601.73 L1833.3,601.74 L1834.8,601.74 L1836.3,601.75 L1837.8,601.76 L1839.3,601.77 L1840.8,601.77 L1842.3,601.78 L1843.8,601.79 L1845.3,601.8 L1846.3,601.8" fill="none" stroke="#0000ff" stroke-width="3.3"/>
</g>
<path d="M1075.8,516.52 h20.5 M1846.3,516.52 h-20.5 M1075.8,431.23 h20.5 M1846.3,431.23 h-20.5 M1075.8,345.95 h20.5 M1846.3,345.95 h-20.5 M1075.8,260.67 h20.5 M1846.3,260.67 h-20.5 M1075.8,175.38 h20.5 M1846.3,175.38 h-20.5 M1295.94,601.8 v-20.5 M1516.09,601.8 v-20.5 M1736.23,601.8 v-20.5 M1130.84,90.1 v20.5 M1185.87,90.1 v20.5 M1295.94,90.1 v20.5 M1442.7,90.1 v20.5 M1626.16,90.1 v20.5 M1809.61,90.1 v20.5" stroke="#000" stroke-width="1.6" fill="none"/>
<rect x="1075.8" y="90.1" width="770.5" height="511.7" fill="none" stroke="#000" stroke-width="1.6"/>
<rect x="755.2" y="117.8" width="102" height="15.7" fill="#ff0000" fill-opacity="0.5" stroke="#ff0000" stroke-width="2.8"/>
<rect x="755.2" y="152.4" width="102" height="16.1" fill="#0000ff" fill-opacity="0.3" stroke="#0000ff" stroke-width="2.8"/>
<rect x="1701.5" y="119.4" width="103.6" height="17.3" fill="#ff0000" fill-opacity="0.3" stroke="#ff0000" stroke-width="2.8"/>
<rect x="1701.5" y="154.5" width="103.6" height="17.1" fill="#00ff00" fill-opacity="0.3" stroke="#00ff00" stroke-width="2.8"/>
<rect x="1701.5" y="189.1" width="103.6" height="17.3" fill="#0000ff" fill-opacity="0.3" stroke="#0000ff" stroke-width="2.8"/>
<g fill="#000">
<text transform="translate(584.05,136.3) scale(1.0167,1)" font-size="38.5" font-family="'Liberation Sans', 'DejaVu Sans', sans-serif">in</text>
<text transform="translate(628.25,136.3) scale(0.8830,1)" font-size="38.5" font-family="'Liberation Sans', 'DejaVu Sans', sans-serif">phase</text>
<text transform="translate(513.06,171) scale(1.0196,1)" font-size="38.5" font-family="'Liberation Sans', 'DejaVu Sans', sans-serif">out</text>
<text transform="translate(580.75,171) scale(1.0733,1)" font-size="38.5" font-family="'Liberation Sans', 'DejaVu Sans', sans-serif">of</text>
<text transform="translate(627.24,171) scale(0.8870,1)" font-size="38.5" font-family="'Liberation Sans', 'DejaVu Sans', sans-serif">phase</text>
<text transform="translate(1593.14,138.8) scale(0.9800,1)" font-size="38.5" font-family="'Liberation Sans', 'DejaVu Sans', sans-serif">0nm</text>
<text transform="translate(1573.17,173.5) scale(0.9630,1)" font-size="38.5" font-family="'Liberation Sans', 'DejaVu Sans', sans-serif">50nm</text>
<text transform="translate(1553.83,208.6) scale(0.9554,1)" font-size="38.5" font-family="'Liberation Sans', 'DejaVu Sans', sans-serif">100nm</text>
<text transform="translate(88.15,607.9) scale(0.9300,1)" font-size="38.5" font-family="'Liberation Sans', 'DejaVu Sans', sans-serif">0</text>
<text transform="translate(59.32,535.17) scale(0.9300,1)" font-size="38.5" font-family="'Liberation Sans', 'DejaVu Sans', sans-serif">0.2</text>
<text transform="translate(58.39,462.44) scale(0.9300,1)" font-size="38.5" font-family="'Liberation Sans', 'DejaVu Sans', sans-serif">0.4</text>
<text transform="translate(58.39,389.71) scale(0.9300,1)" font-size="38.5" font-family="'Liberation Sans', 'DejaVu Sans', sans-serif">0.6</text>
<text transform="translate(58.39,316.99) scale(0.9300,1)" font-size="38.5" font-family="'Liberation Sans', 'DejaVu Sans', sans-serif">0.8</text>
<text transform="translate(88.15,244.26) scale(0.9300,1)" font-size="38.5" font-family="'Liberation Sans', 'DejaVu Sans', sans-serif">1</text>
<text transform="translate(59.32,171.53) scale(0.9300,1)" font-size="38.5" font-family="'Liberation Sans', 'DejaVu Sans', sans-serif">1.2</text>
<text transform="translate(58.39,98.8) scale(0.9300,1)" font-size="38.5" font-family="'Liberation Sans', 'DejaVu Sans', sans-serif">1.4</text>
<text transform="translate(1031,612.4) scale(0.9300,1)" font-size="38.5" font-family="'Liberation Sans', 'DejaVu Sans', sans-serif">0</text>
<text transform="translate(1002.17,527.12) scale(0.9300,1)" font-size="38.5" font-family="'Liberation Sans', 'DejaVu Sans', sans-serif">0.2</text>
<text transform="translate(1001.24,441.83) scale(0.9300,1)" font-size="38.5" font-family="'Liberation Sans', 'DejaVu Sans', sans-serif">0.4</text>
<text transform="translate(1001.24,356.55) scale(0.9300,1)" font-size="38.5" font-family="'Liberation Sans', 'DejaVu Sans', sans-serif">0.6</text>
<text transform="translate(1001.24,271.27) scale(0.9300,1)" font-size="38.5" font-family="'Liberation Sans', 'DejaVu Sans', sans-serif">0.8</text>
<text transform="translate(1031,185.98) scale(0.9300,1)" font-size="38.5" font-family="'Liberation Sans', 'DejaVu Sans', sans-serif">1</text>
<text transform="translate(1002.17,100.7) scale(0.9300,1)" font-size="38.5" font-family="'Liberation Sans', 'DejaVu Sans', sans-serif">1.2</text>
<text transform="translate(121.97,642.7) scale(0.9300,1)" font-size="38.5" font-family="'Liberation Sans', 'DejaVu Sans', sans-serif">0</text>
<text transform="translate(311.32,642.7) scale(0.9300,1)" font-size="38.5" font-family="'Liberation Sans', 'DejaVu Sans', sans-serif">2000</text>
<text transform="translate(530.9,642.7) scale(0.9300,1)" font-size="38.5" font-family="'Liberation Sans', 'DejaVu Sans', sans-serif">4000</text>
<text transform="translate(749.55,642.7) scale(0.9300,1)" font-size="38.5" font-family="'Liberation Sans', 'DejaVu Sans', sans-serif">6000</text>
<text transform="translate(166.98,64.5) scale(0.9300,1)" font-size="38.5" font-family="'Liberation Sans', 'DejaVu Sans', sans-serif">20</text>
<text transform="translate(221.3,64.5) scale(0.9300,1)" font-size="38.5" font-family="'Liberation Sans', 'DejaVu Sans', sans-serif">10</text>
<text transform="translate(341.08,64.5) scale(0.9300,1)" font-size="38.5" font-family="'Liberation Sans', 'DejaVu Sans', sans-serif">5</text>
<text transform="translate(487.16,64.5) scale(0.9300,1)" font-size="38.5" font-family="'Liberation Sans', 'DejaVu Sans', sans-serif">3</text>
<text transform="translate(670.22,64.5) scale(0.9300,1)" font-size="38.5" font-family="'Liberation Sans', 'DejaVu Sans', sans-serif">2</text>
<text transform="translate(837.01,64.5) scale(0.9300,1)" font-size="38.5" font-family="'Liberation Sans', 'DejaVu Sans', sans-serif">1.5</text>
<text transform="translate(1065.57,647.9) scale(0.9300,1)" font-size="38.5" font-family="'Liberation Sans', 'DejaVu Sans', sans-serif">0</text>
<text transform="translate(1255.95,647.9) scale(0.9300,1)" font-size="38.5" font-family="'Liberation Sans', 'DejaVu Sans', sans-serif">2000</text>
<text transform="translate(1476.56,647.9) scale(0.9300,1)" font-size="38.5" font-family="'Liberation Sans', 'DejaVu Sans', sans-serif">4000</text>
<text transform="translate(1696.24,647.9) scale(0.9300,1)" font-size="38.5" font-family="'Liberation Sans', 'DejaVu Sans', sans-serif">6000</text>
<text transform="translate(1110.84,66.8) scale(0.9300,1)" font-size="38.5" font-family="'Liberation Sans', 'DejaVu Sans', sans-serif">20</text>
<text transform="translate(1165.41,66.8) scale(0.9300,1)" font-size="38.5" font-family="'Liberation Sans', 'DejaVu Sans', sans-serif">10</text>
<text transform="translate(1285.71,66.8) scale(0.9300,1)" font-size="38.5" font-family="'Liberation Sans', 'DejaVu Sans', sans-serif">5</text>
<text transform="translate(1432.47,66.8) scale(0.9300,1)" font-size="38.5" font-family="'Liberation Sans', 'DejaVu Sans', sans-serif">3</text>
<text transform="translate(1616.39,66.8) scale(0.9300,1)" font-size="38.5" font-family="'Liberation Sans', 'DejaVu Sans', sans-serif">2</text>
<text transform="translate(1784.03,66.8) scale(0.9300,1)" font-size="38.5" font-family="'Liberation Sans', 'DejaVu Sans', sans-serif">1.5</text>
<text transform="translate(371.2,30) scale(0.9472,1)" font-size="38.5" font-family="'Liberation Sans', 'DejaVu Sans', sans-serif">Wavelength</text>
<text transform="translate(576.9,30.71) scale(1.0000,1.1111)" font-size="38.5" font-family="'Liberation Sans', 'DejaVu Sans', sans-serif">(</text>
<text transform="translate(592.5,30) scale(1.2056,1.0000)" font-size="38.5" font-family="'Liberation Serif', 'DejaVu Serif', serif" font-style="italic">μ</text>
<text transform="translate(614.96,30) scale(0.9481,1)" font-size="38.5" font-family="'Liberation Sans', 'DejaVu Sans', sans-serif">m</text>
<text transform="translate(647.92,30.71) scale(1.0778,1.1111)" font-size="38.5" font-family="'Liberation Sans', 'DejaVu Sans', sans-serif">)</text>
<text transform="translate(1315.4,31.8) scale(0.9533,1)" font-size="38.5" font-family="'Liberation Sans', 'DejaVu Sans', sans-serif">Wavelength</text>
<text transform="translate(1522.96,32.54) scale(0.9700,1.1194)" font-size="38.5" font-family="'Liberation Sans', 'DejaVu Sans', sans-serif">(</text>
<text transform="translate(1538.2,31.67) scale(1.2056,1.0038)" font-size="38.5" font-family="'Liberation Serif', 'DejaVu Serif', serif" font-style="italic">μ</text>
<text transform="translate(1561.29,31.8) scale(0.9370,1)" font-size="38.5" font-family="'Liberation Sans', 'DejaVu Sans', sans-serif">m</text>
<text transform="translate(1593.81,32.54) scale(1.0889,1.1194)" font-size="38.5" font-family="'Liberation Sans', 'DejaVu Sans', sans-serif">)</text>
<text transform="translate(340.8,677.3) scale(0.9463,1)" font-size="38.5" font-family="'Liberation Sans', 'DejaVu Sans', sans-serif">Wavenumber</text>
<text transform="translate(570.6,678.36) scale(0.9500,1.1056)" font-size="38.5" font-family="'Liberation Sans', 'DejaVu Sans', sans-serif">(</text>
<text transform="translate(584.01,677.3) scale(0.9468,1)" font-size="38.5" font-family="'Liberation Sans', 'DejaVu Sans', sans-serif">cm</text>
<text transform="translate(635.28,665.5) scale(1.4154,1)" font-size="27.5" font-family="'Liberation Serif', 'DejaVu Serif', serif">−</text>
<text transform="translate(657.23,663.2) scale(1.1556,1.0500)" font-size="27.5" font-family="'Liberation Serif', 'DejaVu Serif', serif">1</text>
<text transform="translate(677.44,678.36) scale(1.0556,1.1056)" font-size="38.5" font-family="'Liberation Sans', 'DejaVu Sans', sans-serif">)</text>
<text transform="translate(1286,682.3) scale(0.9476,1)" font-size="38.5" font-family="'Liberation Sans', 'DejaVu Sans', sans-serif">Wavenumber</text>
<text transform="translate(1516.2,683.51) scale(1.0000,1.1111)" font-size="38.5" font-family="'Liberation Sans', 'DejaVu Sans', sans-serif">(</text>
<text transform="translate(1529.49,682.3) scale(0.9574,1)" font-size="38.5" font-family="'Liberation Sans', 'DejaVu Sans', sans-serif">cm</text>
<text transform="translate(1581.07,670.2) scale(1.4308,1)" font-size="27.5" font-family="'Liberation Serif', 'DejaVu Serif', serif">−</text>
<text transform="translate(1603.63,668.2) scale(1.1556,1.0722)" font-size="27.5" font-family="'Liberation Serif', 'DejaVu Serif', serif">1</text>
<text transform="translate(1623.4,683.51) scale(1.1000,1.1111)" font-size="38.5" font-family="'Liberation Sans', 'DejaVu Sans', sans-serif">)</text>
<text transform="translate(30.5,495.96) rotate(-90) scale(0.9200,1)" font-size="38.5" font-family="'Liberation Sans', 'DejaVu Sans', sans-serif">Power</text>
<text transform="translate(30.5,382.12) rotate(-90) scale(1.0081,1)" font-size="38.5" font-family="'Liberation Sans', 'DejaVu Sans', sans-serif">(arb.</text>
<text transform="translate(30.5,287.59) rotate(-90) scale(0.9955,1)" font-size="38.5" font-family="'Liberation Sans', 'DejaVu Sans', sans-serif">units)</text>
<text transform="translate(973.5,499.27) rotate(-90) scale(0.9219,1)" font-size="38.5" font-family="'Liberation Sans', 'DejaVu Sans', sans-serif">Power</text>
<text transform="translate(973.5,385.2) rotate(-90) scale(0.9986,1)" font-size="38.5" font-family="'Liberation Sans', 'DejaVu Sans', sans-serif">(arb.</text>
<text transform="translate(973.5,290.59) rotate(-90) scale(0.9955,1)" font-size="38.5" font-family="'Liberation Sans', 'DejaVu Sans', sans-serif">units)</text>
<text transform="translate(424.71,769.9) scale(0.9944,1)" font-size="50" font-family="'Liberation Serif', 'DejaVu Serif', serif">(<tspan font-weight="bold">a</tspan>)</text>
<text transform="translate(1366.42,769.9) scale(0.9877,1)" font-size="50" font-family="'Liberation Serif', 'DejaVu Serif', serif">(<tspan font-weight="bold">b</tspan>)</text>
</g>
</svg>
</body></html>
